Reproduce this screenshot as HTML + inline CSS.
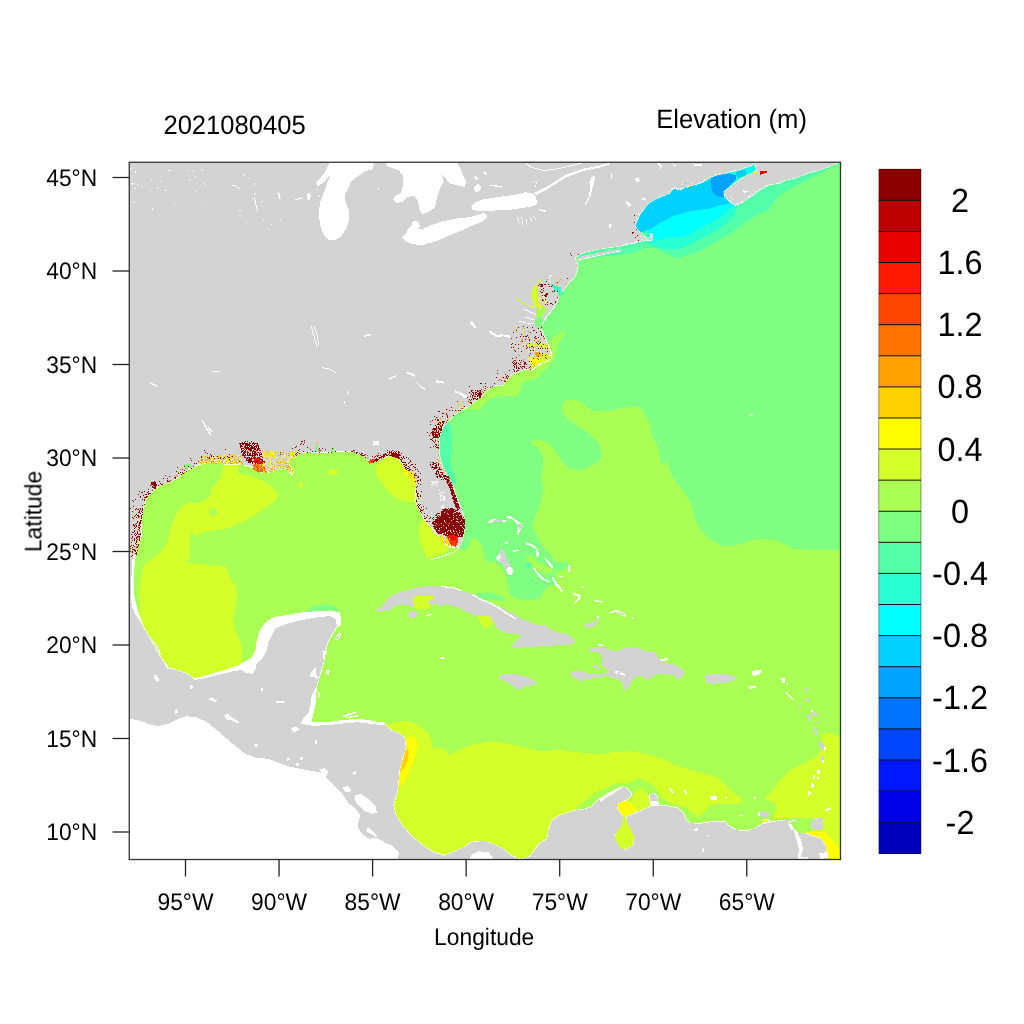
<!DOCTYPE html>
<html><head><meta charset="utf-8"><title>Elevation map</title>
<style>
html,body{margin:0;padding:0;background:#fff;}
svg{display:block;}
text{font-family:"Liberation Sans",Arial,Helvetica,sans-serif;fill:#000;text-rendering:geometricPrecision;}
#txt,#txt2{opacity:0.999;filter:grayscale(1);}
.ax{font-size:22.8px;}
.tt{font-size:25.6px;}
.cb{font-size:32.4px;}
</style></head><body>
<svg width="1024" height="1024" viewBox="0 0 1024 1024">
<rect x="0" y="0" width="1024" height="1024" fill="#ffffff"/>
<defs><clipPath id="clip"><rect x="129.25" y="162.25" width="711.25" height="697.25"/></clipPath></defs>

<g clip-path="url(#clip)" shape-rendering="crispEdges">
<rect x="129.25" y="162.25" width="711.25" height="697.25" fill="#d3d3d3"/>
<path fill="#ffffff" d="M128.0,718.8 138.0,720.0 148.0,723.8 158.0,726.2 168.0,723.8 178.0,718.8 185.5,716.2 195.5,717.0 205.5,721.2 215.5,728.8 225.5,737.5 235.5,746.2 245.5,753.8 255.5,757.5 268.0,758.8 278.0,762.5 288.0,766.2 300.5,768.8 313.0,771.2 320.5,772.5 328.0,780.0 335.5,787.5 343.0,795.0 348.0,802.5 355.5,808.8 360.5,815.0 356.8,820.0 358.0,827.5 361.8,833.8 369.2,838.8 375.5,837.5 380.5,840.0 384.0,841.2 384.0,842.5 391.5,845.0 399.0,852.5 397.8,857.5 399.0,861.2 109.0,861.2Z"/>
<path fill="#ffffff" d="M469.0,861.2 471.5,855.0 479.0,851.2 489.0,852.5 495.2,861.2Z"/>
<path fill="#ffffff" d="M188.0,671.2 194.2,680.0 205.5,678.0 218.0,675.0 233.0,671.2 241.8,670.0 245.5,673.0 253.0,673.8 255.5,668.8 255.5,665.0 263.0,657.5 266.8,650.0 268.8,641.0 275.0,628.5 288.0,623.5 303.0,619.8 318.0,617.2 330.5,616.0 336.8,619.8 338.0,626.0 341.0,625.0 343.0,610.0 303.0,605.0 253.0,610.0 228.0,657.5Z"/>
<path fill="#ffffff" d="M311.8,695.0 316.8,685.0 318.0,695.0 316.0,707.5 314.2,718.8 313.0,722.0 328.0,721.0 343.0,719.0 358.0,717.8 368.0,719.0 384.0,721.2 384.0,725.2 368.0,723.5 358.0,722.2 343.0,723.5 328.0,725.2 313.0,725.8 308.0,725.0 300.5,723.8 303.0,718.8 308.0,713.8 310.5,705.0Z"/>
<path fill="#ffffff" d="M290.5,728.8 294.2,727.0 299.2,728.0 298.0,731.2 293.0,732.0Z"/>
<path fill="#ffffff" d="M355.5,795.0 360.5,793.8 368.0,798.8 375.5,806.2 376.8,812.5 371.8,813.8 363.0,810.0 356.8,803.8 354.2,798.8Z"/>
<path fill="#ffffff" d="M343.0,787.0 348.0,786.2 351.8,790.0 349.2,792.5 344.2,791.2Z"/>
<path fill="#ffffff" d="M319.2,769.5 324.2,768.0 328.0,771.2 326.8,776.2 323.0,777.5 321.8,773.0Z"/>
<path fill="#ffffff" d="M132.8,555.0 136.2,555.0 135.5,574.2 134.2,594.7 135.5,604.3 138.9,611.1 143.0,616.6 143.7,622.0 138.9,620.0 134.8,613.8 131.8,605.6 130.7,594.7 131.6,574.2Z"/>
<path fill="#ffffff" d="M331.2,160.0 325.0,172.5 316.2,182.5 317.5,186.2 325.0,181.2 331.2,173.8 327.5,182.5 323.8,192.5 320.0,202.5 318.8,212.5 320.0,225.0 323.8,235.0 328.8,240.0 335.0,240.5 341.2,236.2 346.2,228.8 349.5,218.8 348.8,210.0 345.8,202.5 344.5,195.0 348.8,187.5 351.2,181.2 360.0,175.0 365.0,171.2 372.5,169.5 373.8,165.0 371.2,160.0Z"/>
<path fill="#ffffff" d="M383.8,160.0 387.5,166.2 398.8,170.0 403.0,176.2 403.0,185.0 401.2,192.5 395.0,196.2 393.0,200.0 396.2,203.0 402.5,202.0 407.5,197.0 413.8,195.5 417.5,200.0 419.5,208.8 422.0,214.5 430.0,211.2 435.0,207.5 437.0,197.5 440.5,187.5 443.8,181.2 441.2,175.0 445.0,177.5 450.0,183.8 456.2,185.0 465.0,187.0 466.2,181.2 462.5,173.8 460.0,167.5 456.2,160.0Z"/>
<path fill="#ffffff" d="M402.5,237.5 406.2,233.8 408.0,228.8 411.2,226.2 412.5,222.5 415.5,220.8 418.8,222.5 420.0,226.2 417.5,228.8 422.5,229.5 430.0,225.5 440.0,222.0 455.0,218.8 470.0,217.0 483.8,213.0 487.5,215.5 486.2,218.8 480.0,222.5 472.5,225.5 460.0,231.2 447.5,236.2 436.2,241.2 425.0,244.5 420.0,245.5 412.5,243.8 406.2,242.0Z"/>
<path fill="#ffffff" d="M471.2,206.2 475.0,202.5 482.5,199.5 497.5,197.0 510.0,195.5 520.0,193.8 525.0,192.0 533.8,193.8 536.2,197.5 537.0,203.8 532.5,206.2 522.5,208.0 512.5,209.5 500.0,210.0 487.5,211.2 478.8,211.2 472.5,209.5Z"/>
<path fill="#ffffff" d="M307.0,193.8 309.5,192.5 311.0,196.2 309.5,200.0 307.0,198.8Z"/>
<path fill="#ffffff" d="M473.8,187.5 478.0,183.8 481.2,187.0 479.5,191.2 475.0,192.0Z"/>
<path fill="#ffffff" d="M533.8,193.2 547.5,186.5 565.0,175.0 582.5,168.8 600.0,165.5 610.0,162.5 610.0,164.0 600.0,167.5 582.5,171.2 565.0,178.0 547.5,189.0 536.2,195.0Z"/>
<clipPath id="oc"><path d="M168.0,668.5 160.5,656.0 150.5,638.5 143.0,623.5 138.0,611.0 134.2,596.0 133.5,578.5 135.0,561.0 138.0,548.5 141.8,536.0 141.8,523.5 143.0,511.0 146.8,498.5 153.0,491.0 163.0,484.8 175.5,479.8 185.5,472.2 195.5,466.0 205.5,463.5 215.5,463.0 225.5,464.8 238.0,464.8 248.0,466.0 255.5,469.8 263.0,473.5 271.8,472.2 278.0,469.8 288.0,470.5 291.8,476.0 294.2,472.2 290.5,466.0 288.0,462.2 293.0,458.5 300.5,453.5 308.0,452.2 318.0,453.0 328.0,453.0 340.5,451.5 353.0,452.2 363.0,456.0 369.2,462.2 375.5,462.4 380.9,459.7 386.4,456.9 391.9,456.2 397.4,458.3 402.1,463.8 405.6,469.2 411.0,474.7 414.4,478.8 415.8,485.6 415.1,492.5 414.4,499.3 416.5,504.8 419.9,511.6 423.3,518.5 427.4,523.9 431.5,528.0 434.3,533.5 438.4,536.2 442.5,540.3 446.6,545.8 452.1,547.9 457.5,548.5 460.3,545.8 463.0,540.3 464.4,533.5 465.0,523.9 464.4,515.7 461.6,507.5 458.2,499.3 455.5,492.5 454.1,485.6 450.0,478.8 445.2,470.6 441.8,462.4 439.7,454.2 439.5,444.6 440.4,435.0 443.8,426.8 448.6,421.4 450.7,420.0 453.2,416.2 460.1,411.4 466.9,408.0 475.1,401.9 482.0,397.1 484.7,393.0 491.5,387.5 498.4,385.4 503.8,386.1 505.2,382.0 510.7,376.6 517.5,372.5 525.7,369.7 531.9,370.4 535.3,367.0 542.1,362.9 547.6,360.8 551.0,358.8 551.4,353.3 548.9,346.5 546.2,341.0 544.2,335.5 543.6,335.9 541.6,329.1 542.6,325.2 544.1,321.3 547.0,316.4 550.9,311.5 554.8,306.6 557.7,302.7 558.7,297.9 559.7,295.9 563.6,291.0 566.5,287.1 569.5,283.2 573.4,279.3 576.3,275.4 577.8,269.5 578.7,264.6 577.3,260.7 575.5,258.4 581.1,254.2 596.6,250.0 616.2,247.2 620.0,246.7 629.4,244.4 640.3,242.0 645.0,240.5 651.2,241.2 653.6,238.9 653.6,235.0 651.2,232.7 648.9,233.4 650.5,237.3 646.6,237.3 641.9,233.4 637.2,228.8 635.6,224.8 638.0,220.2 640.3,214.7 645.0,208.4 649.7,203.0 655.9,199.8 662.2,196.7 670.0,193.6 673.9,188.9 679.4,190.5 685.6,188.1 693.4,185.8 701.2,183.4 707.5,180.3 710.6,178.0 716.9,175.6 726.2,173.8 735.6,171.2 743.4,169.1 749.7,167.0 754.4,163.9 755.9,169.4 752.8,172.5 748.1,174.8 740.3,178.8 732.5,184.2 726.2,188.9 723.1,191.2 724.4,197.5 729.4,202.5 735.6,206.1 743.4,202.2 752.8,195.9 760.6,190.0 768.4,185.8 776.2,184.2 780.0,183.4 785.0,181.1 796.2,178.3 807.5,174.1 818.8,170.7 830.0,167.0 841.2,162.2 842.0,160.0 842.0,862.0 840.0,859.5 827.5,858.8 826.2,845.0 820.0,837.5 810.0,834.5 805.0,832.0 812.5,830.5 823.0,830.0 822.5,817.5 812.5,818.8 813.8,832.5 800.0,832.5 797.5,832.5 788.8,822.5 797.5,820.0 785.0,819.5 772.5,821.2 761.2,823.8 755.0,827.5 747.5,830.5 736.2,829.5 728.8,825.0 723.8,820.8 712.5,821.2 700.0,823.0 690.0,822.5 686.2,818.8 683.8,812.5 677.5,807.5 667.5,805.5 658.8,805.0 658.0,796.2 653.8,792.5 648.8,795.0 650.0,806.2 643.8,808.8 635.0,812.5 626.2,816.2 625.0,822.5 628.8,828.8 633.8,837.5 632.5,845.0 625.0,849.5 620.0,845.0 615.0,835.0 621.2,830.0 625.0,823.8 623.8,816.2 617.5,808.8 618.8,803.8 627.5,800.0 632.5,795.0 630.0,790.0 623.8,786.2 619.0,787.5 609.0,792.5 599.0,798.8 591.5,806.2 584.0,808.8 574.0,810.0 566.5,812.5 559.0,815.0 551.5,820.0 547.8,830.0 546.5,838.8 539.0,842.5 534.0,850.0 529.0,856.2 520.2,858.8 511.5,855.0 504.0,848.8 494.0,843.8 484.0,840.5 471.5,841.2 466.5,845.0 456.5,850.0 444.0,855.0 432.8,851.2 421.5,843.8 411.5,835.0 402.8,825.0 396.5,815.0 394.0,805.0 397.8,792.5 399.0,782.5 400.2,770.0 402.8,760.0 406.5,747.5 405.2,737.5 399.0,732.5 391.5,730.0 384.0,723.0 384.0,722.5 378.0,722.0 368.0,720.0 358.0,718.8 343.0,720.0 328.0,722.0 311.8,722.5 313.0,715.0 315.5,705.0 316.0,695.0 317.5,685.0 320.5,675.0 324.2,662.5 325.5,652.5 328.0,642.5 335.5,630.0 340.5,620.0 340.5,621.0 339.2,613.5 333.0,610.5 318.0,611.0 303.0,612.2 288.0,614.8 273.0,617.2 264.2,623.5 258.0,633.5 254.2,646.0 248.0,656.0 238.0,666.0 264.2,625.0 259.2,632.5 256.8,640.0 255.5,650.0 251.8,657.5 245.5,661.2 238.0,665.0 228.0,668.8 215.5,672.5 203.0,676.2 194.2,678.0 186.8,673.0 178.0,670.0 169.2,667.5 161.8,657.5 159.2,647.5 153.0,640.0 145.5,630.0 140.5,620.0Z"/></clipPath>
<path fill="none" stroke="#ffffff" stroke-width="1.5" stroke-linejoin="round" d="M168.0,668.5 160.5,656.0 150.5,638.5 143.0,623.5 138.0,611.0 134.2,596.0 133.5,578.5 135.0,561.0 138.0,548.5 141.8,536.0 141.8,523.5 143.0,511.0 146.8,498.5 153.0,491.0 163.0,484.8 175.5,479.8 185.5,472.2 195.5,466.0 205.5,463.5 215.5,463.0 225.5,464.8 238.0,464.8 248.0,466.0 255.5,469.8 263.0,473.5 271.8,472.2 278.0,469.8 288.0,470.5 291.8,476.0 294.2,472.2 290.5,466.0 288.0,462.2 293.0,458.5 300.5,453.5 308.0,452.2 318.0,453.0 328.0,453.0 340.5,451.5 353.0,452.2 363.0,456.0 369.2,462.2 375.5,462.4 380.9,459.7 386.4,456.9 391.9,456.2 397.4,458.3 402.1,463.8 405.6,469.2 411.0,474.7 414.4,478.8 415.8,485.6 415.1,492.5 414.4,499.3 416.5,504.8 419.9,511.6 423.3,518.5 427.4,523.9 431.5,528.0 434.3,533.5 438.4,536.2 442.5,540.3 446.6,545.8 452.1,547.9 457.5,548.5 460.3,545.8 463.0,540.3 464.4,533.5 465.0,523.9 464.4,515.7 461.6,507.5 458.2,499.3 455.5,492.5 454.1,485.6 450.0,478.8 445.2,470.6 441.8,462.4 439.7,454.2 439.5,444.6 440.4,435.0 443.8,426.8 448.6,421.4 450.7,420.0 453.2,416.2 460.1,411.4 466.9,408.0 475.1,401.9 482.0,397.1 484.7,393.0 491.5,387.5 498.4,385.4 503.8,386.1 505.2,382.0 510.7,376.6 517.5,372.5 525.7,369.7 531.9,370.4 535.3,367.0 542.1,362.9 547.6,360.8 551.0,358.8 551.4,353.3 548.9,346.5 546.2,341.0 544.2,335.5 543.6,335.9 541.6,329.1 542.6,325.2 544.1,321.3 547.0,316.4 550.9,311.5 554.8,306.6 557.7,302.7 558.7,297.9 559.7,295.9 563.6,291.0 566.5,287.1 569.5,283.2 573.4,279.3 576.3,275.4 577.8,269.5 578.7,264.6 577.3,260.7 575.5,258.4 581.1,254.2 596.6,250.0 616.2,247.2 620.0,246.7 629.4,244.4 640.3,242.0 645.0,240.5 651.2,241.2 653.6,238.9 653.6,235.0 651.2,232.7 648.9,233.4 650.5,237.3 646.6,237.3 641.9,233.4 637.2,228.8 635.6,224.8 638.0,220.2 640.3,214.7 645.0,208.4 649.7,203.0 655.9,199.8 662.2,196.7 670.0,193.6 673.9,188.9 679.4,190.5 685.6,188.1 693.4,185.8 701.2,183.4 707.5,180.3 710.6,178.0 716.9,175.6 726.2,173.8 735.6,171.2 743.4,169.1 749.7,167.0 754.4,163.9 755.9,169.4 752.8,172.5 748.1,174.8 740.3,178.8 732.5,184.2 726.2,188.9 723.1,191.2 724.4,197.5 729.4,202.5 735.6,206.1 743.4,202.2 752.8,195.9 760.6,190.0 768.4,185.8 776.2,184.2 780.0,183.4 785.0,181.1 796.2,178.3 807.5,174.1 818.8,170.7 830.0,167.0 841.2,162.2 842.0,160.0 842.0,862.0 840.0,859.5 827.5,858.8 826.2,845.0 820.0,837.5 810.0,834.5 805.0,832.0 812.5,830.5 823.0,830.0 822.5,817.5 812.5,818.8 813.8,832.5 800.0,832.5 797.5,832.5 788.8,822.5 797.5,820.0 785.0,819.5 772.5,821.2 761.2,823.8 755.0,827.5 747.5,830.5 736.2,829.5 728.8,825.0 723.8,820.8 712.5,821.2 700.0,823.0 690.0,822.5 686.2,818.8 683.8,812.5 677.5,807.5 667.5,805.5 658.8,805.0 658.0,796.2 653.8,792.5 648.8,795.0 650.0,806.2 643.8,808.8 635.0,812.5 626.2,816.2 625.0,822.5 628.8,828.8 633.8,837.5 632.5,845.0 625.0,849.5 620.0,845.0 615.0,835.0 621.2,830.0 625.0,823.8 623.8,816.2 617.5,808.8 618.8,803.8 627.5,800.0 632.5,795.0 630.0,790.0 623.8,786.2 619.0,787.5 609.0,792.5 599.0,798.8 591.5,806.2 584.0,808.8 574.0,810.0 566.5,812.5 559.0,815.0 551.5,820.0 547.8,830.0 546.5,838.8 539.0,842.5 534.0,850.0 529.0,856.2 520.2,858.8 511.5,855.0 504.0,848.8 494.0,843.8 484.0,840.5 471.5,841.2 466.5,845.0 456.5,850.0 444.0,855.0 432.8,851.2 421.5,843.8 411.5,835.0 402.8,825.0 396.5,815.0 394.0,805.0 397.8,792.5 399.0,782.5 400.2,770.0 402.8,760.0 406.5,747.5 405.2,737.5 399.0,732.5 391.5,730.0 384.0,723.0 384.0,722.5 378.0,722.0 368.0,720.0 358.0,718.8 343.0,720.0 328.0,722.0 311.8,722.5 313.0,715.0 315.5,705.0 316.0,695.0 317.5,685.0 320.5,675.0 324.2,662.5 325.5,652.5 328.0,642.5 335.5,630.0 340.5,620.0 340.5,621.0 339.2,613.5 333.0,610.5 318.0,611.0 303.0,612.2 288.0,614.8 273.0,617.2 264.2,623.5 258.0,633.5 254.2,646.0 248.0,656.0 238.0,666.0 264.2,625.0 259.2,632.5 256.8,640.0 255.5,650.0 251.8,657.5 245.5,661.2 238.0,665.0 228.0,668.8 215.5,672.5 203.0,676.2 194.2,678.0 186.8,673.0 178.0,670.0 169.2,667.5 161.8,657.5 159.2,647.5 153.0,640.0 145.5,630.0 140.5,620.0Z"/>
<path fill="#aaff55" d="M168.0,668.5 160.5,656.0 150.5,638.5 143.0,623.5 138.0,611.0 134.2,596.0 133.5,578.5 135.0,561.0 138.0,548.5 141.8,536.0 141.8,523.5 143.0,511.0 146.8,498.5 153.0,491.0 163.0,484.8 175.5,479.8 185.5,472.2 195.5,466.0 205.5,463.5 215.5,463.0 225.5,464.8 238.0,464.8 248.0,466.0 255.5,469.8 263.0,473.5 271.8,472.2 278.0,469.8 288.0,470.5 291.8,476.0 294.2,472.2 290.5,466.0 288.0,462.2 293.0,458.5 300.5,453.5 308.0,452.2 318.0,453.0 328.0,453.0 340.5,451.5 353.0,452.2 363.0,456.0 369.2,462.2 375.5,462.4 380.9,459.7 386.4,456.9 391.9,456.2 397.4,458.3 402.1,463.8 405.6,469.2 411.0,474.7 414.4,478.8 415.8,485.6 415.1,492.5 414.4,499.3 416.5,504.8 419.9,511.6 423.3,518.5 427.4,523.9 431.5,528.0 434.3,533.5 438.4,536.2 442.5,540.3 446.6,545.8 452.1,547.9 457.5,548.5 460.3,545.8 463.0,540.3 464.4,533.5 465.0,523.9 464.4,515.7 461.6,507.5 458.2,499.3 455.5,492.5 454.1,485.6 450.0,478.8 445.2,470.6 441.8,462.4 439.7,454.2 439.5,444.6 440.4,435.0 443.8,426.8 448.6,421.4 450.7,420.0 453.2,416.2 460.1,411.4 466.9,408.0 475.1,401.9 482.0,397.1 484.7,393.0 491.5,387.5 498.4,385.4 503.8,386.1 505.2,382.0 510.7,376.6 517.5,372.5 525.7,369.7 531.9,370.4 535.3,367.0 542.1,362.9 547.6,360.8 551.0,358.8 551.4,353.3 548.9,346.5 546.2,341.0 544.2,335.5 543.6,335.9 541.6,329.1 542.6,325.2 544.1,321.3 547.0,316.4 550.9,311.5 554.8,306.6 557.7,302.7 558.7,297.9 559.7,295.9 563.6,291.0 566.5,287.1 569.5,283.2 573.4,279.3 576.3,275.4 577.8,269.5 578.7,264.6 577.3,260.7 575.5,258.4 581.1,254.2 596.6,250.0 616.2,247.2 620.0,246.7 629.4,244.4 640.3,242.0 645.0,240.5 651.2,241.2 653.6,238.9 653.6,235.0 651.2,232.7 648.9,233.4 650.5,237.3 646.6,237.3 641.9,233.4 637.2,228.8 635.6,224.8 638.0,220.2 640.3,214.7 645.0,208.4 649.7,203.0 655.9,199.8 662.2,196.7 670.0,193.6 673.9,188.9 679.4,190.5 685.6,188.1 693.4,185.8 701.2,183.4 707.5,180.3 710.6,178.0 716.9,175.6 726.2,173.8 735.6,171.2 743.4,169.1 749.7,167.0 754.4,163.9 755.9,169.4 752.8,172.5 748.1,174.8 740.3,178.8 732.5,184.2 726.2,188.9 723.1,191.2 724.4,197.5 729.4,202.5 735.6,206.1 743.4,202.2 752.8,195.9 760.6,190.0 768.4,185.8 776.2,184.2 780.0,183.4 785.0,181.1 796.2,178.3 807.5,174.1 818.8,170.7 830.0,167.0 841.2,162.2 842.0,160.0 842.0,862.0 840.0,859.5 827.5,858.8 826.2,845.0 820.0,837.5 810.0,834.5 805.0,832.0 812.5,830.5 823.0,830.0 822.5,817.5 812.5,818.8 813.8,832.5 800.0,832.5 797.5,832.5 788.8,822.5 797.5,820.0 785.0,819.5 772.5,821.2 761.2,823.8 755.0,827.5 747.5,830.5 736.2,829.5 728.8,825.0 723.8,820.8 712.5,821.2 700.0,823.0 690.0,822.5 686.2,818.8 683.8,812.5 677.5,807.5 667.5,805.5 658.8,805.0 658.0,796.2 653.8,792.5 648.8,795.0 650.0,806.2 643.8,808.8 635.0,812.5 626.2,816.2 625.0,822.5 628.8,828.8 633.8,837.5 632.5,845.0 625.0,849.5 620.0,845.0 615.0,835.0 621.2,830.0 625.0,823.8 623.8,816.2 617.5,808.8 618.8,803.8 627.5,800.0 632.5,795.0 630.0,790.0 623.8,786.2 619.0,787.5 609.0,792.5 599.0,798.8 591.5,806.2 584.0,808.8 574.0,810.0 566.5,812.5 559.0,815.0 551.5,820.0 547.8,830.0 546.5,838.8 539.0,842.5 534.0,850.0 529.0,856.2 520.2,858.8 511.5,855.0 504.0,848.8 494.0,843.8 484.0,840.5 471.5,841.2 466.5,845.0 456.5,850.0 444.0,855.0 432.8,851.2 421.5,843.8 411.5,835.0 402.8,825.0 396.5,815.0 394.0,805.0 397.8,792.5 399.0,782.5 400.2,770.0 402.8,760.0 406.5,747.5 405.2,737.5 399.0,732.5 391.5,730.0 384.0,723.0 384.0,722.5 378.0,722.0 368.0,720.0 358.0,718.8 343.0,720.0 328.0,722.0 311.8,722.5 313.0,715.0 315.5,705.0 316.0,695.0 317.5,685.0 320.5,675.0 324.2,662.5 325.5,652.5 328.0,642.5 335.5,630.0 340.5,620.0 340.5,621.0 339.2,613.5 333.0,610.5 318.0,611.0 303.0,612.2 288.0,614.8 273.0,617.2 264.2,623.5 258.0,633.5 254.2,646.0 248.0,656.0 238.0,666.0 264.2,625.0 259.2,632.5 256.8,640.0 255.5,650.0 251.8,657.5 245.5,661.2 238.0,665.0 228.0,668.8 215.5,672.5 203.0,676.2 194.2,678.0 186.8,673.0 178.0,670.0 169.2,667.5 161.8,657.5 159.2,647.5 153.0,640.0 145.5,630.0 140.5,620.0Z"/>
<g clip-path="url(#oc)">
<path fill="#80ff80" d="M457.5,547.9 460.3,548.5 464.4,551.3 468.5,547.2 471.2,540.3 473.9,537.6 478.0,540.3 481.5,545.8 483.5,551.3 484.6,556.8 486.6,561.8 491.6,561.4 496.6,563.1 501.5,568.1 505.7,574.7 507.4,581.3 508.2,588.0 509.8,594.6 516.5,598.8 526.4,600.4 536.4,600.4 541.4,596.3 544.7,589.6 548.0,586.3 553.0,585.5 558.0,584.7 556.3,579.7 554.7,573.9 558.0,571.4 564.6,569.7 569.6,566.4 567.9,562.3 563.0,561.4 556.3,562.3 553.0,558.1 549.7,553.1 544.7,548.1 539.7,541.5 535.6,533.2 532.3,526.6 534.7,518.3 538.1,510.0 541.4,500.0 542.8,491.0 542.0,473.5 543.5,458.5 539.0,448.5 531.5,443.5 534.0,439.8 544.0,441.0 551.5,446.0 556.5,453.5 562.8,462.2 569.0,468.5 579.0,470.5 589.0,467.2 599.0,462.2 602.0,453.5 599.0,443.5 589.0,433.5 574.0,423.5 564.0,416.0 562.0,405.0 566.5,400.0 574.0,399.5 581.5,402.5 586.5,407.5 594.0,411.2 606.5,411.2 619.0,408.8 631.5,406.2 640.0,407.5 645.0,416.0 651.2,426.0 651.2,434.8 657.5,446.0 661.2,464.8 666.2,461.0 672.5,477.2 685.0,493.5 691.2,503.5 695.0,518.5 700.0,529.8 710.0,539.8 722.5,545.5 735.0,545.5 750.0,541.0 763.8,539.0 777.5,541.0 792.5,548.5 817.5,550.5 845.0,549.8 845.0,150.0 430.0,150.0 440.0,400.0 450.0,540.0Z"/>
<path fill="#aaff55" d="M526.4,554.8 531.4,556.4 536.4,561.4 543.0,564.7 548.0,566.4 553.0,568.1 551.3,573.0 548.0,574.7 543.0,573.0 536.4,569.7 531.4,565.6 527.3,560.6Z"/>
<path fill="#55ffaa" d="M526.1,562.8 529.8,562.3 532.3,566.4 528.9,568.1 526.4,565.6Z"/>
<path fill="#aaff55" d="M464.2,410.1 469.6,409.4 480.6,409.4 484.7,403.9 490.2,398.4 498.4,396.4 506.6,396.4 517.5,395.7 520.9,388.9 523.0,382.0 529.8,380.0 538.0,377.9 540.7,372.5 547.6,368.4 553.0,360.2 555.8,354.7 557.8,345.1 561.2,338.3 565.4,332.8 566.0,330.8 559.9,333.5 553.7,336.9 550.3,342.4 547.6,345.1 539.4,341.0 484.7,368.4 457.3,409.4Z"/>
<path fill="#55ffaa" d="M438.4,435.0 443.8,426.8 448.6,422.1 452.1,428.2 452.7,439.1 451.8,450.1 450.7,461.0 452.1,469.2 454.8,477.4 456.8,484.3 452.1,484.3 438.4,461.0Z"/>
<path fill="#55ffaa" d="M576.9,259.0 596.6,257.3 619.9,254.8 633.1,252.8 644.4,248.3 655.6,247.8 664.1,252.8 678.1,258.4 695.0,252.8 711.9,244.4 728.8,234.5 742.8,224.7 756.9,214.8 768.1,210.6 773.8,202.2 782.2,193.8 796.2,185.3 813.1,176.9 827.2,169.8 841.2,163.4 841.2,154.4 574.1,154.4Z"/>
<path fill="#2affd4" d="M648.1,242.8 652.8,245.9 662.2,249.1 673.1,249.1 682.5,248.3 693.4,242.8 704.4,236.6 713.8,231.9 723.1,225.6 732.5,217.8 735.6,211.6 736.9,206.9 738.8,156.9 635.6,156.9Z"/>
<path fill="#00ffff" d="M649.7,239.7 653.6,241.2 660.6,238.9 671.6,237.3 682.5,236.6 691.9,233.4 701.2,227.2 713.8,220.9 723.1,214.7 729.4,208.4 733.3,205.3 733.3,156.9 635.6,156.9Z"/>
<path fill="#00d1ff" d="M634.1,235.0 651.2,228.8 660.6,222.5 673.1,216.2 685.6,212.3 698.1,210.0 710.6,208.4 720.0,205.3 728.6,203.8 729.4,156.9 632.5,156.9Z"/>
<path fill="#00a2ff" d="M711.4,178.0 720.0,174.8 729.4,173.3 736.4,175.6 735.6,179.5 729.4,185.8 725.0,191.2 724.4,197.2 716.9,196.2 712.2,192.0 710.6,185.0Z"/>
<path fill="#00d1ff" d="M736.4,171.7 743.4,169.4 749.7,170.9 745.0,175.6 738.8,178.0 735.9,175.6Z"/>
<path fill="#00ffff" d="M743.4,168.6 752.8,164.7 755.9,169.4 751.2,173.3 747.3,173.3Z"/>
<path fill="#80ff80" d="M568.4,278.1 579.7,266.9 581.1,258.4 575.5,257.0 565.6,266.9 557.2,283.8Z"/>
<path fill="#d4ff2a" d="M143.0,566.0 150.5,559.8 160.5,552.2 168.0,541.0 170.5,528.5 175.5,516.0 181.8,506.0 189.2,502.2 200.5,503.5 210.5,496.0 211.8,488.5 220.5,478.5 224.2,463.5 238.0,461.0 238.0,473.5 250.5,476.0 263.0,481.0 273.0,487.2 278.8,496.0 273.0,502.2 263.0,509.8 253.0,516.0 245.5,521.0 238.0,523.5 228.0,528.5 215.5,529.8 203.0,532.2 196.8,536.0 190.5,532.2 190.0,546.0 190.5,556.0 185.5,562.2 198.0,564.0 225.5,566.0 229.2,576.0 235.5,586.0 237.5,596.0 235.5,606.0 233.0,616.0 234.2,628.5 239.2,638.5 241.8,648.5 241.8,661.0 235.5,673.5 228.0,681.0 215.5,691.0 153.0,691.0 138.0,628.5 140.5,616.0 139.2,591.0Z"/>
<path fill="#aaff55" d="M208.5,509.8 213.0,508.0 217.5,510.5 216.8,514.8 212.5,516.0 209.0,514.0Z"/>
<path fill="#d4ff2a" d="M328.0,471.5 333.0,469.0 338.5,470.5 337.5,474.0 331.8,475.5 328.5,474.0Z"/>
<path fill="#d4ff2a" d="M298.5,482.2 301.8,481.5 303.0,486.0 300.5,488.5 298.5,486.0Z"/>
<path fill="#d4ff2a" d="M375.5,465.1 380.9,461.0 387.8,455.8 393.2,454.9 399.4,456.9 405.6,463.8 411.0,470.6 416.5,477.4 417.9,485.6 416.5,493.8 413.8,503.4 409.7,502.1 402.8,500.7 396.0,497.9 389.1,492.5 383.7,485.6 378.2,478.8 375.5,472.0Z"/>
<path fill="#d4ff2a" d="M422.6,518.5 428.8,523.2 432.9,528.0 436.3,532.8 439.7,535.6 444.5,540.3 447.9,545.1 449.3,549.9 443.8,553.3 438.4,554.7 432.9,556.8 427.4,558.1 424.0,551.3 420.6,543.1 419.0,534.9 419.5,526.7Z"/>
<path fill="#d4ff2a" d="M411.9,595.4 434.5,595.4 435.5,598.4 427.6,601.8 431.2,605.4 428.4,609.1 416.2,609.1 413.0,604.4Z"/>
<path fill="#d4ff2a" d="M476.3,614.0 490.3,614.0 494.2,621.6 486.0,628.9 481.3,623.7Z"/>
<path fill="#80ff80" d="M476.6,593.0 489.9,592.3 503.2,596.3 505.7,601.6 494.9,599.6 480.0,599.6 473.3,597.1Z"/>
<path fill="#80ff80" d="M306.0,611.0 313.0,606.5 325.5,604.0 335.5,606.5 340.0,612.2 328.0,613.5Z"/>
<path fill="#d4ff2a" d="M379.0,725.0 391.5,723.8 399.0,721.2 409.0,721.2 419.0,726.2 427.8,732.5 431.5,740.0 432.8,747.5 444.0,748.8 449.0,755.0 459.0,750.0 471.5,745.0 484.0,742.5 494.0,741.8 509.0,743.8 524.0,747.5 539.0,751.2 559.0,750.0 579.0,752.5 596.5,753.8 600.0,753.8 615.0,752.0 632.5,751.2 650.0,755.0 665.0,760.0 675.0,765.0 690.0,770.0 705.0,773.8 717.5,777.5 725.0,785.0 732.5,792.5 741.2,797.5 742.5,802.5 735.0,803.8 722.5,803.8 710.0,805.0 705.0,810.0 700.0,815.0 696.2,817.5 692.5,812.5 685.0,807.5 672.5,803.8 662.5,798.8 658.8,792.5 655.0,787.5 650.0,782.5 642.5,780.0 637.5,777.5 632.5,781.2 625.0,783.8 615.0,782.5 607.5,787.5 600.0,790.0 595.0,792.5 570.0,813.8 585.0,870.0 375.0,870.0Z"/>
<path fill="#d4ff2a" d="M765.0,798.8 772.5,790.0 780.0,780.0 790.0,770.0 800.0,765.0 810.0,760.0 817.5,755.0 821.2,750.0 822.5,733.8 830.0,732.5 842.5,738.8 842.5,870.0 800.0,870.0 815.0,832.5 817.5,817.5 785.0,818.0 772.5,820.0 775.0,810.0 776.2,803.8 770.0,801.2Z"/>
<path fill="#d4ff2a" d="M632.5,795.0 640.0,786.2 648.8,795.0 651.2,807.5 635.0,813.8 626.2,817.5 615.0,835.0 620.0,845.0 625.0,851.2 633.8,846.2 635.0,837.5 629.5,828.8 625.5,822.5 627.5,815.0Z"/>
<path fill="#aaff55" d="M788.8,821.2 812.5,820.8 813.8,832.5 797.5,833.0Z"/>
<path fill="#ffff00" d="M615.0,803.8 627.5,799.5 636.8,810.0 626.2,816.8 623.8,816.8 617.0,809.2Z"/>
<path fill="#ffff00" d="M805.0,832.0 815.0,831.2 825.0,832.5 832.5,840.0 838.8,847.5 841.2,860.0 826.2,860.0 826.2,845.0 820.0,837.5 810.0,834.5Z"/>
<path fill="#ffff00" d="M407.8,736.2 415.2,737.5 417.8,745.0 415.2,757.5 410.2,770.0 405.2,780.0 401.5,786.2 397.8,785.0 399.0,770.0 402.8,760.0 405.2,747.5Z"/>
<path fill="#ffd100" d="M404.0,747.5 409.0,750.0 407.8,760.0 402.8,770.0 399.0,772.5 400.2,760.0Z"/>
</g>
<path fill="#d3d3d3" d="M375.4,609.7 380.7,607.6 385.0,602.2 389.3,596.9 397.9,592.6 408.7,589.8 419.4,586.8 432.3,586.1 443.0,586.8 453.8,588.3 462.4,591.5 471.0,593.6 477.4,599.0 486.0,602.2 496.8,605.4 505.4,609.7 513.9,614.0 520.4,618.3 529.0,621.6 537.6,624.8 546.2,625.4 549.4,629.1 556.9,632.3 564.4,633.4 570.9,636.6 575.8,640.9 573.0,644.1 563.4,645.2 552.6,645.6 541.9,646.3 529.0,646.9 518.2,647.8 510.7,648.4 512.9,644.1 518.2,639.8 520.4,634.5 511.8,633.4 503.2,632.3 496.8,628.0 493.5,622.6 489.2,615.8 477.4,616.2 471.0,614.0 464.5,610.8 458.1,607.6 450.6,605.4 444.1,604.4 442.0,606.5 436.6,604.4 430.6,604.8 427.6,601.8 434.5,598.4 433.4,596.2 421.6,595.8 413.0,596.9 413.6,604.4 414.0,608.2 408.7,605.4 400.1,604.4 393.6,606.5 390.4,609.7 382.9,610.8 377.5,611.9Z"/>
<path fill="#d3d3d3" d="M407.6,614.0 411.9,610.4 416.2,610.8 417.7,614.0 415.1,617.7 409.7,617.7Z"/>
<path fill="#ffffff" d="M473.1,594.1 481.7,599.0 490.3,602.2 498.9,607.0 507.5,613.0 516.1,618.3 515.2,619.4 506.6,614.3 498.0,608.2 489.5,603.5 480.9,600.3 472.3,595.4Z"/>
<path fill="#ffffff" d="M440.9,586.1 451.6,586.8 462.4,590.4 462.0,591.5 451.6,588.0 440.9,587.2Z"/>
<path fill="#ffffff" d="M439.8,657.0 445.2,657.7 444.8,659.2 440.0,658.7Z"/>
<path fill="#ffffff" d="M425.9,615.1 432.3,614.0 432.7,615.1 426.3,616.2Z"/>
<path fill="#d3d3d3" d="M497.8,677.0 504.0,673.8 514.0,673.8 524.0,676.2 534.0,680.0 537.0,683.8 531.5,685.5 525.2,685.5 520.2,690.0 514.0,687.5 507.8,682.5 501.5,680.0Z"/>
<path fill="#d3d3d3" d="M588.9,649.7 593.6,647.3 602.2,647.3 611.6,650.5 619.4,650.5 622.5,647.8 628.8,648.4 635.8,647.3 644.4,650.5 650.6,652.0 654.5,652.0 660.0,659.8 663.9,663.0 672.5,663.8 678.8,666.9 685.0,672.3 681.9,677.0 678.8,680.2 676.4,678.6 674.8,675.5 667.8,674.7 661.6,673.9 655.3,673.9 651.4,678.6 644.4,679.4 642.8,675.5 636.6,677.0 633.4,677.8 631.9,681.7 628.8,687.2 624.8,691.1 622.5,687.2 622.5,682.5 617.8,679.4 611.6,677.0 605.3,676.2 599.1,677.8 591.2,678.6 585.0,678.6 581.1,681.7 577.2,679.4 571.7,676.2 570.2,673.1 574.1,670.8 581.9,671.6 589.7,673.9 599.1,674.7 605.3,673.1 609.2,671.6 605.3,668.4 602.2,665.3 601.4,660.6 602.2,655.9 599.1,652.8 593.6,652.0 589.7,652.0Z"/>
<path fill="#d3d3d3" d="M592.0,665.6 595.9,665.3 600.6,667.7 599.8,669.7 595.2,668.4Z"/>
<path fill="#ffffff" d="M614.7,670.8 618.6,671.2 618.1,673.9 615.0,673.4Z"/>
<path fill="#ffffff" d="M620.2,672.3 625.6,673.9 624.8,675.8 620.2,674.4Z"/>
<path fill="#ffffff" d="M660.0,659.1 667.8,658.0 668.6,660.3 661.6,660.9Z"/>
<path fill="#ffffff" d="M598.3,644.2 603.8,644.7 604.5,645.9 599.1,645.5Z"/>
<path fill="#d3d3d3" d="M705.0,675.0 712.5,673.8 725.0,674.2 735.0,676.2 735.0,680.0 725.0,683.0 712.5,683.8 706.2,682.5Z"/>
<path fill="#ffffff" d="M752.0,671.2 756.2,669.5 762.0,670.0 760.0,673.8 755.0,676.2 752.0,675.0Z"/>
<path fill="#ffffff" d="M748.8,686.5 756.2,686.0 756.2,688.0 749.2,688.8Z"/>
<path fill="#d3d3d3" d="M500.7,549.0 504.0,549.8 505.7,556.4 509.8,563.1 512.8,569.7 512.3,574.7 509.0,575.5 505.7,569.7 502.4,563.9 497.4,560.6 495.7,558.1 499.1,554.8Z"/>
<path fill="#ffffff" d="M505.7,569.7 509.8,566.4 512.8,569.7 512.3,574.7 509.0,575.5Z"/>
<path fill="#ffffff" d="M495.7,558.1 499.1,554.8 500.7,557.3 498.2,561.1Z"/>
<path fill="#ffffff" d="M487.4,521.6 492.4,519.1 499.1,519.9 505.7,520.3 506.5,522.4 499.1,522.4 492.4,522.4 488.3,523.2Z"/>
<path fill="#d3d3d3" d="M492.4,519.6 499.1,520.1 503.2,520.4 503.2,521.6 493.2,521.6Z"/>
<path fill="#ffffff" d="M505.7,516.6 510.7,516.3 515.7,519.9 520.6,523.2 522.8,526.6 519.8,530.7 519.0,534.9 516.5,534.0 518.1,528.2 517.3,524.1 513.2,519.9 507.4,517.9Z"/>
<path fill="#d3d3d3" d="M518.1,523.2 521.5,524.9 521.8,527.4 519.5,529.9 518.5,527.4Z"/>
<path fill="#ffffff" d="M525.6,542.3 528.9,542.8 533.9,545.7 538.1,549.0 538.9,554.8 537.2,558.1 536.1,554.8 536.7,549.8 533.1,547.3 528.9,544.8 525.6,544.8Z"/>
<path fill="#ffffff" d="M512.3,550.6 519.8,549.5 520.1,550.8 512.8,552.1Z"/>
<path fill="#ffffff" d="M545.5,558.1 549.7,562.3 553.8,567.2 552.2,568.4 548.0,563.9 544.7,559.4Z"/>
<path fill="#ffffff" d="M533.9,567.2 538.1,573.0 543.0,578.0 549.7,581.3 548.9,582.5 542.2,579.4 537.2,574.4 533.1,568.4Z"/>
<path fill="#ffffff" d="M553.0,576.4 556.3,582.2 560.5,587.2 563.0,591.3 561.3,591.6 558.0,587.7 554.3,583.0 551.7,577.2Z"/>
<path fill="#ffffff" d="M572.1,592.6 577.1,593.8 580.9,595.5 579.6,599.6 576.2,602.1 573.8,604.6 574.9,601.6 577.9,598.8 578.2,596.6 573.8,595.0Z"/>
<path fill="#ffffff" d="M594.2,599.6 602.0,601.3 601.7,602.6 594.5,601.3Z"/>
<path fill="#ffffff" d="M607.8,612.9 612.8,610.9 616.9,609.6 621.9,612.1 626.1,614.6 625.2,617.0 620.2,614.6 616.1,612.1 611.1,613.2Z"/>
<path fill="#d3d3d3" d="M616.9,610.4 621.9,612.9 624.7,615.4 623.6,615.9 619.4,613.7Z"/>
<path fill="#d3d3d3" d="M584.6,624.5 589.5,622.9 595.3,621.2 597.5,617.0 598.7,618.7 597.0,623.7 592.9,627.0 587.0,628.2 584.9,627.0Z"/>
<path fill="#ffffff" d="M596.5,616.7 598.7,616.2 599.2,618.7 597.5,618.2Z"/>
<path fill="#ffffff" d="M631.9,617.0 633.0,617.0 633.0,618.9 631.9,618.9Z"/>
<path fill="#ffffff" d="M567.9,565.6 570.4,564.7 570.1,571.4 568.3,571.7Z"/>
<path fill="#ffffff" d="M558.8,575.5 563.0,576.0 562.6,577.4 559.0,577.0Z"/>
<path fill="#ffffff" d="M582.1,586.3 584.6,586.7 584.2,588.0 582.2,587.7Z"/>
<path fill="#ffffff" d="M504.9,542.3 508.2,541.8 508.5,543.5 505.2,544.0Z"/>
<path fill="#d3d3d3" d="M805.1,687.8 807.7,687.5 809.0,690.8 806.1,691.9Z"/>
<path fill="#d3d3d3" d="M805.1,699.3 809.0,698.5 809.7,701.4 805.8,702.2Z"/>
<path fill="#d3d3d3" d="M798.9,704.9 800.7,704.9 800.9,707.7 799.1,707.7Z"/>
<path fill="#d3d3d3" d="M807.2,713.7 811.2,714.2 811.2,719.5 809.5,721.8 807.7,719.5Z"/>
<path fill="#d3d3d3" d="M811.2,711.6 814.8,711.2 818.3,715.1 817.4,716.5 813.0,716.0Z"/>
<path fill="#d3d3d3" d="M816.0,720.7 818.3,720.7 818.3,723.0 816.0,723.0Z"/>
<path fill="#d3d3d3" d="M813.0,727.4 816.0,727.4 817.7,732.7 816.5,735.8 814.8,734.4Z"/>
<path fill="#d3d3d3" d="M818.3,741.8 821.8,742.3 825.3,746.7 824.8,750.6 821.8,749.4 819.2,745.9Z"/>
<path fill="#d3d3d3" d="M821.3,756.4 823.6,756.4 824.1,762.6 822.3,763.5 820.9,759.9Z"/>
<path fill="#ffffff" d="M781.3,678.1 784.9,677.8 785.0,682.5 781.9,682.7Z"/>
<path fill="#ffffff" d="M784.9,691.9 786.1,691.5 793.1,698.9 792.1,700.0Z"/>
<path fill="#ffffff" d="M817.0,770.5 819.5,770.0 819.5,774.0 817.4,774.5Z"/>
<path fill="#ffffff" d="M817.4,776.6 818.8,776.6 819.0,780.2 817.6,780.2Z"/>
<path fill="#ffffff" d="M807.7,791.6 810.4,790.7 810.7,794.2 808.6,796.0Z"/>
<path fill="#ffffff" d="M825.3,809.2 830.6,807.4 830.9,808.8 826.2,811.5Z"/>
<path fill="#ffffff" d="M812.1,784.6 813.5,784.0 813.9,787.2 812.5,787.6Z"/>
<path fill="#ffffff" d="M786.6,683.4 788.4,683.4 788.4,684.8 786.6,684.8Z"/>
<path fill="#ffffff" d="M824.1,746.4 825.8,747.1 825.3,751.1 824.4,750.6Z"/>
<path fill="#ffffff" d="M810.4,710.7 812.5,710.3 812.6,711.9 810.7,712.3Z"/>
<path fill="#80ff80" d="M534.3,322.3 537.2,317.4 538.7,316.4 542.1,317.4 543.1,320.3 541.9,325.2 543.1,329.1 538.2,328.1 535.3,325.2Z"/>
<path fill="#aaff55" d="M535.3,316.4 536.2,310.5 538.2,305.7 542.1,306.6 546.0,308.6 547.0,311.5 544.1,313.5 542.1,317.4 538.2,316.9Z"/>
<path fill="#d4ff2a" d="M531.2,295.9 532.1,291.0 534.1,285.9 537.2,285.4 538.4,291.0 537.8,295.9 538.8,300.8 540.9,304.7 539.4,306.8 535.3,306.4 532.6,300.8Z"/>
<path fill="#d4ff2a" d="M535.5,307.0 529.6,305.1 523.8,302.2 519.8,300.2 517.3,300.6 518.7,297.1 517.6,296.7 516.2,301.0 519.5,301.4 523.3,303.3 529.2,306.2 535.1,308.2Z"/>
<path fill="#ffffff" d="M536.4,314.0 530.6,311.6 524.7,308.7 524.3,309.5 530.2,312.4 536.1,314.9Z"/>
<path fill="#ffffff" d="M534.5,319.9 529.6,317.9 525.6,316.9 525.4,317.8 529.3,318.8 534.1,320.7Z"/>
<path fill="#ffffff" d="M534.3,322.6 529.4,323.0 524.6,322.3 517.8,320.4 517.6,321.2 524.4,323.2 529.4,323.9 534.3,323.5Z"/>
<path fill="#d4ff2a" d="M535.2,286.9 538.6,282.6 541.5,279.7 540.8,278.9 537.8,281.9 534.4,286.3Z"/>
<path fill="#ffffff" d="M543.0,325.3 544.4,321.5 547.3,316.6 551.2,311.8 555.1,307.9 554.5,307.3 550.6,311.3 546.7,316.2 543.7,321.1 542.2,325.1Z"/>
<path fill="#2affd4" d="M550.9,283.2 553.8,284.7 557.7,286.6 561.2,287.6 561.6,290.0 559.7,291.5 555.8,290.5 552.9,287.6 550.9,285.2Z"/>
<path fill="#55ffaa" d="M557.7,291.0 563.6,290.5 563.6,294.9 559.7,295.9 558.2,293.5Z"/>
<path fill="#ffffff" d="M551.3,283.0 549.3,279.3 551.2,275.7 552.9,275.3 552.8,274.5 550.6,275.1 548.5,279.3 550.5,283.4Z"/>
<path fill="#d4ff2a" d="M538.0,355.4 546.2,352.6 550.3,354.0 550.9,358.5 547.6,360.8 542.1,362.9 538.0,363.6 535.3,366.7 532.3,370.0 530.5,367.0 533.9,364.3Z"/>
<path fill="#ffff00" d="M529.1,358.8 533.9,356.7 539.4,358.1 540.1,362.2 536.6,364.9 531.9,365.6 529.1,362.9Z"/>
<path fill="#ffa200" d="M534.6,352.6 540.1,352.0 541.0,356.1 536.0,357.1Z"/>
<path fill="#d4ff2a" d="M527.8,344.0 533.9,343.1 546.2,344.0 548.4,347.2 546.2,350.9 544.6,348.1 538.0,346.2 529.1,347.2Z"/>
<path fill="#ffffff" d="M532.1,371.0 535.5,367.6 542.3,363.5 547.7,361.5 551.6,359.2 552.1,353.3 549.6,346.3 546.9,340.9 544.8,335.4 542.8,329.9 542.0,330.2 544.1,335.7 546.1,341.2 548.9,346.6 551.3,353.4 550.9,358.9 547.4,360.7 541.9,362.8 535.0,366.9 531.6,370.4Z"/>
<path fill="#d3d3d3" d="M576.9,259.0 581.1,256.2 593.8,253.7 607.8,250.6 620.5,248.9 621.3,250.6 607.8,253.4 593.8,256.2 579.7,260.7Z"/>
<path fill="#ffffff" d="M577.5,260.5 593.8,256.9 607.9,254.0 621.4,251.2 621.2,250.5 607.7,253.3 593.7,256.1 577.4,259.7Z"/>
<path fill="#e80000" d="M759.8,171.2 767.7,170.9 766.9,172.5 763.0,173.8 760.3,174.8Z"/>
<path fill="#ffff00" d="M752.8,170.9 756.2,171.2 756.7,172.8 753.1,172.5Z"/>
<path fill="#80ff80" d="M315.8,445.2 317.2,445.2 319.9,452.3 313.9,452.3Z"/>
<path fill="#ffa200" d="M315.8,442.8 317.7,442.8 317.7,444.4 315.8,444.4Z"/>
<path fill="#80ff80" d="M331.3,448.2 334.4,448.5 335.0,451.7 330.9,451.7Z"/>
<path fill="#ff4600" d="M368.2,460.8 374.1,460.3 374.6,463.0 368.9,463.6Z"/>
<path fill="#d4ff2a" d="M623.2,816.2 626.2,816.2 627.1,823.0 631.5,830.2 634.4,837.5 632.7,844.8 626.6,849.1 620.6,848.4 617.0,842.3 614.5,836.3 618.2,830.2 622.3,824.2Z"/>
<path fill="#ffff00" d="M617.0,803.6 627.9,800.0 636.3,808.4 626.6,814.5 623.0,816.9 620.6,812.1Z"/>
<path fill="#d3d3d3" d="M812.6,819.3 822.8,817.6 822.8,829.5 813.1,829.5 810.2,825.4Z"/>
<path fill="#ffffff" d="M710.2,795.8 717.5,796.3 717.2,800.0 710.7,799.5Z"/>
<path fill="#ffffff" d="M669.0,788.6 670.7,788.1 674.1,792.9 672.7,793.9Z"/>
<path fill="#ffffff" d="M683.6,790.3 685.5,789.5 687.2,793.4 685.2,793.9Z"/>
<path fill="#ffffff" d="M694.0,828.8 698.1,828.3 698.3,830.7 694.5,831.0Z"/>
<path fill="#ffffff" d="M739.3,814.7 742.9,814.5 742.9,816.2 739.5,816.4Z"/>
<path fill="#ffffff" d="M706.6,834.6 709.0,835.6 708.0,837.0Z"/>
<path fill="#ffffff" d="M702.2,848.6 704.1,848.2 704.1,852.0 702.4,852.0Z"/>
<path fill="#ffffff" d="M807.8,791.0 810.2,790.5 810.2,794.4 808.0,794.9Z"/>
<path fill="#ffffff" d="M817.2,769.7 819.2,769.7 819.2,774.0 817.5,774.0Z"/>
<path fill="#ffffff" d="M821.8,760.0 823.8,760.0 823.5,762.9 822.1,762.9Z"/>
<path fill="#ffffff" d="M825.7,809.2 830.1,808.0 830.6,809.4 826.2,810.9Z"/>
<path fill="#ffffff" d="M754.0,796.8 755.5,796.8 755.5,798.8 754.0,798.8Z"/>
<path fill="#ffffff" d="M724.7,796.8 726.9,797.3 726.4,799.2Z"/>
<path fill="#ffffff" d="M649.6,801.2 658.1,800.7 658.1,805.5 650.4,806.0Z"/>
<path fill="#ffffff" d="M600.0,798.8 609.7,792.7 619.4,787.1 623.0,787.1 614.5,792.7 604.8,798.8 600.0,802.4Z"/>
<path fill="#ffffff" d="M793.8,830.2 796.7,830.7 801.0,839.9 803.0,849.6 800.5,856.9 808.3,857.4 808.3,859.3 797.4,859.3 799.1,850.1 796.7,841.1Z"/>
<path fill="#ffffff" d="M819.2,853.2 827.7,852.0 828.1,858.1 820.4,858.8Z"/>
<path fill="#ffffff" d="M787.7,824.2 791.3,823.5 793.8,829.0 791.8,830.2Z"/>
<path fill="#ffffff" d="M813.1,774.5 814.6,774.5 814.8,779.4 813.4,779.4Z"/>
<path fill="#ffffff" d="M811.2,783.0 812.6,783.0 812.6,786.6 811.2,786.6Z"/>
<path fill="#d3d3d3" d="M758.6,812.8 764.7,811.3 769.5,812.8 769.0,816.2 762.3,817.2 758.9,815.7Z"/>
<path fill="#ffffff" d="M757.9,813.8 759.4,811.8 760.3,814.7 758.9,816.7Z"/>
<path fill="#ffffff" d="M762.3,819.6 769.5,819.1 770.0,822.5 762.8,823.5Z"/>
<path fill="#ffff00" d="M762.8,820.5 767.6,820.1 768.1,822.0 763.2,822.5Z"/>
<path fill="#ffffff" d="M342.3,716.0 348.5,713.4 357.3,711.6 356.4,713.1 349.3,715.2 344.1,717.3Z"/>
<path fill="#ffffff" d="M345.8,717.3 355.5,715.5 359.9,714.6 359.0,716.0 348.5,718.2Z"/>
<path fill="#ffffff" d="M317.7,692.3 320.3,691.4 320.0,696.7 317.9,697.6Z"/>
<path fill="#ffffff" d="M366.4,828.0 368.2,827.3 373.1,831.6 377.5,835.6 375.7,836.8 371.3,833.8 367.8,832.6Z"/>
<path fill="#ffffff" d="M355.5,815.7 359.9,816.4 359.0,820.7 357.6,825.9 355.5,824.2Z"/>
<path fill="#ffffff" d="M749.7,415.9 752.7,414.6 752.3,413.8 749.3,415.1Z"/>
<path fill="#ffffff" d="M335.2,638.1 337.5,634.0 340.6,632.5 341.3,635.1 339.0,638.4 336.0,640.9Z"/>
<path fill="#d3d3d3" d="M336.2,637.9 338.0,634.8 340.0,633.8 340.3,635.1 338.5,637.6 336.7,639.6Z"/>
<path fill="#ffffff" d="M326.2,670.5 328.1,669.2 330.0,671.1 328.7,674.7 326.5,674.3Z"/>
<path fill="#ffffff" d="M322.0,651.4 326.2,650.6 327.5,653.3 324.3,654.6 324.9,657.2 323.3,659.7 322.4,657.2 323.3,654.0Z"/>
<path fill="#e8f0c0" d="M317.3,694.0 319.8,691.7 320.5,694.0 318.6,697.8Z"/>
<path fill="#ffffff" d="M460.0,547.7 452.6,552.1 441.9,556.1 430.9,559.4 431.1,560.1 442.1,556.9 452.9,552.9 460.5,548.3Z"/>
<path fill="#00d1ff" d="M685 183h1v1h-1zM683 186h1v1h-1zM685 187h1v1h-1zM684 188h1v1h-1z"/>
<path fill="#80ff80" d="M190 463h1v1h-1zM184 464h7v1h-7zM184 465h7v1h-7zM185 466h3v1h-3zM190 466h2v1h-2zM185 467h7v1h-7zM186 468h2v1h-2zM186 469h1v1h-1z"/>
<path fill="#aaff55" d="M287 451h1v1h-1zM289 452h1v1h-1zM278 462h1v1h-1zM288 463h1v1h-1zM284 467h1v1h-1zM276 469h1v1h-1zM284 469h1v1h-1zM264 471h1v1h-1zM419 494h1v1h-1zM416 495h1v1h-1zM419 495h1v1h-1zM418 497h2v1h-2zM415 498h2v1h-2zM415 499h1v1h-1zM417 499h1v1h-1zM420 500h1v1h-1zM419 501h1v1h-1zM417 502h1v1h-1zM420 502h1v1h-1z"/>
<path fill="#d4ff2a" d="M538 299h1v1h-1zM545 300h1v1h-1zM536 301h1v1h-1zM541 301h1v1h-1zM541 303h1v1h-1zM544 303h1v1h-1zM535 304h1v1h-1zM543 304h1v1h-1zM541 306h1v1h-1zM543 306h1v1h-1zM540 307h1v1h-1zM530 338h1v1h-1zM524 344h1v1h-1zM529 344h1v1h-1zM531 344h1v1h-1zM542 346h1v1h-1zM545 353h1v1h-1zM533 355h2v1h-2zM548 355h1v1h-1zM540 356h1v1h-1zM534 357h1v1h-1zM538 363h1v1h-1zM290 451h1v1h-1zM277 452h1v1h-1zM217 455h1v1h-1zM227 457h1v1h-1zM201 458h1v1h-1zM237 458h1v1h-1zM203 459h1v1h-1zM226 459h1v1h-1zM231 459h1v1h-1zM287 459h1v1h-1zM210 460h1v1h-1zM218 460h1v1h-1zM235 460h1v1h-1zM290 460h1v1h-1zM227 461h1v1h-1zM201 462h1v1h-1zM235 462h1v1h-1zM237 462h1v1h-1zM223 463h1v1h-1zM238 463h1v1h-1zM240 463h1v1h-1zM287 463h1v1h-1zM266 465h1v1h-1zM269 465h1v1h-1zM269 466h1v1h-1zM275 466h1v1h-1zM278 466h1v1h-1zM289 466h1v1h-1zM278 468h1v1h-1zM273 469h1v1h-1zM273 470h1v1h-1zM293 472h1v1h-1zM137 543h1v1h-1zM133 546h1v1h-1zM138 546h1v1h-1zM136 549h1v1h-1z"/>
<path fill="#ffff00" d="M755 161h1v1h-1zM726 169h1v1h-1zM716 173h1v1h-1zM716 174h1v1h-1zM707 178h1v1h-1zM688 185h1v1h-1zM690 185h2v1h-2zM689 186h1v1h-1zM536 296h1v1h-1zM541 296h1v1h-1zM538 298h1v1h-1zM544 300h1v1h-1zM546 301h1v1h-1zM544 302h1v1h-1zM538 304h1v1h-1zM538 305h1v1h-1zM540 306h1v1h-1zM541 307h1v1h-1zM545 307h1v1h-1zM513 326h1v1h-1zM520 331h1v1h-1zM536 339h1v1h-1zM545 340h1v1h-1zM511 341h1v1h-1zM524 342h1v1h-1zM530 342h1v1h-1zM543 343h1v1h-1zM548 349h1v1h-1zM534 350h1v1h-1zM532 351h1v1h-1zM528 356h1v1h-1zM539 356h1v1h-1zM532 360h1v1h-1zM537 364h1v1h-1zM437 449h1v1h-1zM274 450h1v1h-1zM438 450h1v1h-1zM265 451h1v1h-1zM270 451h1v1h-1zM272 451h2v1h-2zM263 452h2v1h-2zM270 452h2v1h-2zM273 452h2v1h-2zM287 452h1v1h-1zM291 452h1v1h-1zM296 452h1v1h-1zM263 453h4v1h-4zM271 453h4v1h-4zM285 453h1v1h-1zM230 454h1v1h-1zM232 454h1v1h-1zM237 454h1v1h-1zM267 454h1v1h-1zM269 454h6v1h-6zM276 454h1v1h-1zM291 454h1v1h-1zM293 454h1v1h-1zM223 455h2v1h-2zM263 455h3v1h-3zM270 455h1v1h-1zM273 455h1v1h-1zM292 455h1v1h-1zM294 455h1v1h-1zM204 456h1v1h-1zM221 456h1v1h-1zM224 456h1v1h-1zM229 456h1v1h-1zM233 456h1v1h-1zM264 456h2v1h-2zM268 456h2v1h-2zM271 456h1v1h-1zM274 456h2v1h-2zM281 456h1v1h-1zM285 456h1v1h-1zM292 456h1v1h-1zM200 457h1v1h-1zM205 457h1v1h-1zM214 457h1v1h-1zM235 457h1v1h-1zM239 457h1v1h-1zM263 457h1v1h-1zM266 457h1v1h-1zM268 457h1v1h-1zM271 457h2v1h-2zM284 457h1v1h-1zM287 457h1v1h-1zM289 457h3v1h-3zM200 458h1v1h-1zM211 458h2v1h-2zM226 458h1v1h-1zM228 458h2v1h-2zM232 458h1v1h-1zM239 458h1v1h-1zM271 458h1v1h-1zM275 458h1v1h-1zM282 458h1v1h-1zM291 458h1v1h-1zM212 459h1v1h-1zM216 459h1v1h-1zM232 459h1v1h-1zM241 459h1v1h-1zM266 459h1v1h-1zM288 459h1v1h-1zM439 459h1v1h-1zM212 460h1v1h-1zM217 460h1v1h-1zM221 460h1v1h-1zM228 460h1v1h-1zM280 460h1v1h-1zM203 461h1v1h-1zM216 461h1v1h-1zM221 461h1v1h-1zM224 461h1v1h-1zM231 461h1v1h-1zM279 461h1v1h-1zM282 461h1v1h-1zM204 462h1v1h-1zM207 462h1v1h-1zM212 462h1v1h-1zM215 462h1v1h-1zM218 462h2v1h-2zM221 462h1v1h-1zM224 462h1v1h-1zM226 462h2v1h-2zM231 462h3v1h-3zM268 462h1v1h-1zM270 462h1v1h-1zM274 462h1v1h-1zM287 462h1v1h-1zM437 462h1v1h-1zM440 462h1v1h-1zM197 463h1v1h-1zM202 463h1v1h-1zM219 463h1v1h-1zM221 463h1v1h-1zM227 463h1v1h-1zM266 463h2v1h-2zM274 463h1v1h-1zM200 464h1v1h-1zM239 464h1v1h-1zM242 464h1v1h-1zM263 464h1v1h-1zM269 464h1v1h-1zM274 464h1v1h-1zM262 465h1v1h-1zM264 465h1v1h-1zM271 465h1v1h-1zM273 465h1v1h-1zM276 465h1v1h-1zM283 465h1v1h-1zM289 465h1v1h-1zM183 466h1v1h-1zM262 466h1v1h-1zM281 466h1v1h-1zM269 467h2v1h-2zM275 467h1v1h-1zM278 467h1v1h-1zM281 467h2v1h-2zM279 468h1v1h-1zM284 468h1v1h-1zM286 468h1v1h-1zM289 468h1v1h-1zM263 469h1v1h-1zM265 469h1v1h-1zM277 469h1v1h-1zM279 469h1v1h-1zM281 469h3v1h-3zM286 469h1v1h-1zM289 469h1v1h-1zM404 469h1v1h-1zM267 470h1v1h-1zM271 470h1v1h-1zM274 470h1v1h-1zM290 470h1v1h-1zM404 470h4v1h-4zM444 470h1v1h-1zM405 471h1v1h-1zM407 471h2v1h-2zM411 471h1v1h-1zM179 472h1v1h-1zM264 472h1v1h-1zM268 472h1v1h-1zM404 472h1v1h-1zM406 472h2v1h-2zM409 472h1v1h-1zM411 472h2v1h-2zM181 473h1v1h-1zM291 473h1v1h-1zM405 473h4v1h-4zM410 473h1v1h-1zM406 474h3v1h-3zM410 474h4v1h-4zM410 475h2v1h-2zM413 475h1v1h-1zM409 476h1v1h-1zM411 476h2v1h-2zM411 477h3v1h-3zM412 478h1v1h-1zM414 478h1v1h-1zM413 479h3v1h-3zM449 479h1v1h-1zM412 480h4v1h-4zM413 481h1v1h-1zM414 483h1v1h-1zM415 484h1v1h-1zM453 486h1v1h-1zM145 499h1v1h-1zM134 507h1v1h-1zM135 513h1v1h-1zM134 515h1v1h-1zM140 515h1v1h-1zM140 519h1v1h-1zM139 520h1v1h-1zM137 523h1v1h-1zM140 529h1v1h-1zM133 530h1v1h-1zM140 531h1v1h-1zM442 535h1v1h-1zM439 536h1v1h-1zM446 536h1v1h-1zM137 538h1v1h-1zM442 538h1v1h-1zM442 539h2v1h-2zM447 539h1v1h-1zM443 540h1v1h-1zM138 541h1v1h-1zM443 541h1v1h-1zM446 541h2v1h-2zM132 542h1v1h-1zM137 542h2v1h-2zM444 543h1v1h-1zM447 543h1v1h-1zM445 544h1v1h-1zM128 545h1v1h-1zM449 545h1v1h-1zM132 546h1v1h-1zM131 548h1v1h-1zM136 548h1v1h-1zM131 549h1v1h-1zM137 549h1v1h-1zM136 551h1v1h-1zM135 552h1v1h-1zM135 556h1v1h-1z"/>
<path fill="#ffd100" d="M557 278h1v1h-1zM553 279h1v1h-1zM549 284h1v1h-1zM557 285h1v1h-1zM557 286h1v1h-1zM558 289h1v1h-1zM538 297h1v1h-1zM543 297h1v1h-1zM538 301h1v1h-1zM541 302h1v1h-1zM537 305h1v1h-1zM542 305h1v1h-1zM537 308h2v1h-2zM542 308h1v1h-1zM522 328h1v1h-1zM514 330h1v1h-1zM524 332h1v1h-1zM523 334h1v1h-1zM535 340h1v1h-1zM538 340h1v1h-1zM527 343h1v1h-1zM535 345h1v1h-1zM513 346h1v1h-1zM546 346h1v1h-1zM536 347h1v1h-1zM526 349h1v1h-1zM536 349h1v1h-1zM541 353h1v1h-1zM548 353h1v1h-1zM524 355h1v1h-1zM546 355h1v1h-1zM535 362h1v1h-1zM457 406h1v1h-1zM461 406h1v1h-1zM454 408h1v1h-1zM459 409h1v1h-1zM453 414h1v1h-1zM448 418h1v1h-1zM449 419h1v1h-1zM440 420h1v1h-1zM446 420h1v1h-1zM436 422h1v1h-1zM439 423h1v1h-1zM441 424h1v1h-1zM441 425h1v1h-1zM437 433h1v1h-1zM439 439h1v1h-1zM438 442h1v1h-1zM263 451h2v1h-2zM266 451h1v1h-1zM268 451h1v1h-1zM274 451h1v1h-1zM267 452h1v1h-1zM282 452h1v1h-1zM292 452h2v1h-2zM268 453h1v1h-1zM270 453h1v1h-1zM222 454h1v1h-1zM226 454h1v1h-1zM234 454h1v1h-1zM240 454h1v1h-1zM264 454h3v1h-3zM290 454h1v1h-1zM230 455h1v1h-1zM232 455h1v1h-1zM266 455h1v1h-1zM268 455h1v1h-1zM271 455h2v1h-2zM287 455h1v1h-1zM289 455h1v1h-1zM291 455h1v1h-1zM203 456h1v1h-1zM206 456h1v1h-1zM209 456h1v1h-1zM237 456h1v1h-1zM266 456h1v1h-1zM272 456h1v1h-1zM286 456h1v1h-1zM203 457h1v1h-1zM216 457h1v1h-1zM219 457h1v1h-1zM238 457h1v1h-1zM267 457h1v1h-1zM270 457h1v1h-1zM274 457h1v1h-1zM283 457h1v1h-1zM204 458h1v1h-1zM208 458h1v1h-1zM213 458h1v1h-1zM219 458h1v1h-1zM222 458h1v1h-1zM230 458h1v1h-1zM279 458h1v1h-1zM289 458h1v1h-1zM439 458h1v1h-1zM205 459h1v1h-1zM207 459h1v1h-1zM213 459h1v1h-1zM215 459h1v1h-1zM223 459h1v1h-1zM235 459h1v1h-1zM237 459h1v1h-1zM271 459h1v1h-1zM273 459h1v1h-1zM279 459h1v1h-1zM290 459h1v1h-1zM209 460h1v1h-1zM213 460h1v1h-1zM219 460h2v1h-2zM226 460h1v1h-1zM229 460h2v1h-2zM271 460h1v1h-1zM285 460h1v1h-1zM289 460h1v1h-1zM204 461h1v1h-1zM222 461h1v1h-1zM225 461h1v1h-1zM232 461h1v1h-1zM276 461h1v1h-1zM286 461h1v1h-1zM203 462h1v1h-1zM208 462h1v1h-1zM213 462h2v1h-2zM230 462h1v1h-1zM240 462h2v1h-2zM263 462h1v1h-1zM265 462h1v1h-1zM279 462h1v1h-1zM282 462h1v1h-1zM284 462h2v1h-2zM203 463h1v1h-1zM218 463h1v1h-1zM220 463h1v1h-1zM224 463h2v1h-2zM228 463h2v1h-2zM233 463h1v1h-1zM237 463h1v1h-1zM276 463h1v1h-1zM280 463h1v1h-1zM271 464h1v1h-1zM280 464h1v1h-1zM288 464h1v1h-1zM280 465h1v1h-1zM285 465h1v1h-1zM287 465h1v1h-1zM440 465h1v1h-1zM265 466h1v1h-1zM273 466h1v1h-1zM277 466h1v1h-1zM280 466h1v1h-1zM285 466h1v1h-1zM272 467h2v1h-2zM276 467h1v1h-1zM290 467h1v1h-1zM262 468h1v1h-1zM272 468h1v1h-1zM290 468h1v1h-1zM266 469h1v1h-1zM285 469h1v1h-1zM265 470h1v1h-1zM268 470h1v1h-1zM289 470h1v1h-1zM292 470h1v1h-1zM270 471h1v1h-1zM272 471h1v1h-1zM289 471h1v1h-1zM404 471h1v1h-1zM406 471h1v1h-1zM409 471h2v1h-2zM445 471h1v1h-1zM262 472h1v1h-1zM408 472h1v1h-1zM410 472h1v1h-1zM292 473h1v1h-1zM409 473h1v1h-1zM412 473h1v1h-1zM409 474h1v1h-1zM412 475h1v1h-1zM410 476h1v1h-1zM413 476h1v1h-1zM410 477h1v1h-1zM411 478h1v1h-1zM413 478h1v1h-1zM415 478h1v1h-1zM414 481h1v1h-1zM167 482h1v1h-1zM415 482h1v1h-1zM163 483h1v1h-1zM415 483h1v1h-1zM159 486h1v1h-1zM145 498h1v1h-1zM441 535h1v1h-1zM440 536h1v1h-1zM442 536h1v1h-1zM446 537h1v1h-1zM441 538h1v1h-1zM443 538h1v1h-1zM447 538h1v1h-1zM441 539h1v1h-1zM442 540h1v1h-1zM446 540h3v1h-3zM444 541h1v1h-1zM448 541h1v1h-1zM446 542h1v1h-1zM448 543h1v1h-1zM448 544h3v1h-3zM447 545h1v1h-1z"/>
<path fill="#ffa200" d="M547 279h1v1h-1zM560 279h1v1h-1zM559 281h1v1h-1zM555 282h1v1h-1zM556 283h1v1h-1zM565 283h1v1h-1zM558 287h1v1h-1zM553 291h1v1h-1zM524 328h1v1h-1zM516 329h1v1h-1zM528 331h1v1h-1zM535 337h1v1h-1zM543 338h1v1h-1zM521 340h1v1h-1zM520 341h2v1h-2zM540 341h1v1h-1zM547 345h1v1h-1zM526 346h1v1h-1zM537 346h1v1h-1zM515 350h1v1h-1zM532 350h1v1h-1zM518 354h1v1h-1zM546 354h1v1h-1zM539 362h1v1h-1zM532 363h1v1h-1zM531 364h1v1h-1zM524 365h1v1h-1zM536 365h1v1h-1zM528 368h1v1h-1zM463 402h1v1h-1zM458 404h1v1h-1zM463 406h1v1h-1zM461 408h1v1h-1zM456 410h1v1h-1zM459 410h1v1h-1zM456 411h1v1h-1zM450 416h1v1h-1zM435 439h1v1h-1zM435 441h1v1h-1zM438 444h1v1h-1zM266 452h1v1h-1zM283 452h1v1h-1zM294 452h1v1h-1zM275 453h1v1h-1zM286 453h1v1h-1zM288 453h1v1h-1zM292 454h1v1h-1zM297 454h1v1h-1zM438 454h1v1h-1zM220 455h1v1h-1zM233 455h1v1h-1zM293 455h1v1h-1zM216 456h1v1h-1zM218 456h1v1h-1zM225 456h1v1h-1zM235 456h1v1h-1zM240 456h1v1h-1zM262 456h1v1h-1zM294 456h1v1h-1zM232 457h1v1h-1zM234 457h1v1h-1zM266 458h1v1h-1zM292 458h1v1h-1zM201 459h1v1h-1zM206 459h1v1h-1zM208 459h3v1h-3zM221 459h1v1h-1zM236 459h1v1h-1zM238 459h1v1h-1zM284 459h1v1h-1zM291 459h1v1h-1zM437 459h1v1h-1zM202 460h1v1h-1zM205 460h1v1h-1zM207 460h1v1h-1zM222 460h1v1h-1zM232 460h1v1h-1zM238 460h1v1h-1zM439 460h1v1h-1zM210 461h3v1h-3zM217 461h1v1h-1zM236 461h1v1h-1zM240 461h1v1h-1zM205 462h1v1h-1zM222 462h1v1h-1zM236 462h1v1h-1zM242 462h1v1h-1zM276 462h2v1h-2zM280 462h2v1h-2zM201 463h1v1h-1zM216 463h1v1h-1zM230 463h3v1h-3zM236 463h1v1h-1zM242 463h1v1h-1zM271 463h1v1h-1zM278 463h1v1h-1zM285 463h1v1h-1zM241 464h1v1h-1zM259 464h1v1h-1zM261 464h2v1h-2zM272 464h1v1h-1zM256 465h1v1h-1zM259 465h1v1h-1zM265 465h1v1h-1zM274 465h1v1h-1zM279 465h1v1h-1zM282 465h1v1h-1zM255 466h1v1h-1zM259 466h1v1h-1zM264 466h1v1h-1zM283 466h1v1h-1zM253 467h1v1h-1zM255 467h1v1h-1zM258 467h1v1h-1zM261 467h1v1h-1zM267 467h1v1h-1zM280 467h1v1h-1zM286 467h1v1h-1zM440 467h1v1h-1zM255 468h2v1h-2zM259 468h2v1h-2zM271 468h1v1h-1zM255 469h2v1h-2zM271 469h2v1h-2zM288 469h1v1h-1zM290 469h1v1h-1zM263 470h1v1h-1zM275 470h1v1h-1zM443 470h1v1h-1zM269 471h1v1h-1zM271 471h1v1h-1zM292 471h1v1h-1zM259 472h1v1h-1zM265 472h1v1h-1zM443 472h1v1h-1zM448 478h1v1h-1zM449 481h1v1h-1zM440 537h1v1h-1zM442 537h1v1h-1zM444 537h1v1h-1zM446 538h1v1h-1zM445 539h1v1h-1zM445 541h1v1h-1zM444 542h1v1h-1zM447 542h1v1h-1zM449 542h1v1h-1zM449 543h1v1h-1zM448 545h1v1h-1z"/>
<path fill="#ff7400" d="M540 339h1v1h-1zM519 355h1v1h-1zM537 358h1v1h-1zM524 359h1v1h-1zM534 365h1v1h-1zM502 377h1v1h-1zM507 377h1v1h-1zM505 378h1v1h-1zM498 380h1v1h-1zM483 386h1v1h-1zM483 387h1v1h-1zM487 387h1v1h-1zM485 390h1v1h-1zM482 391h1v1h-1zM470 393h1v1h-1zM479 398h1v1h-1zM469 402h1v1h-1zM447 409h1v1h-1zM437 417h1v1h-1zM440 418h1v1h-1zM438 419h1v1h-1zM435 431h1v1h-1zM282 454h1v1h-1zM278 455h1v1h-1zM288 455h1v1h-1zM205 456h1v1h-1zM231 456h1v1h-1zM293 456h1v1h-1zM208 457h1v1h-1zM225 458h1v1h-1zM202 459h1v1h-1zM228 459h1v1h-1zM234 459h1v1h-1zM201 460h1v1h-1zM213 461h1v1h-1zM230 461h1v1h-1zM283 461h1v1h-1zM200 462h1v1h-1zM206 462h1v1h-1zM211 462h1v1h-1zM234 462h1v1h-1zM286 463h1v1h-1zM254 464h1v1h-1zM256 464h3v1h-3zM255 465h1v1h-1zM257 465h2v1h-2zM260 465h2v1h-2zM278 465h1v1h-1zM286 465h1v1h-1zM257 466h1v1h-1zM260 466h2v1h-2zM263 466h1v1h-1zM288 466h1v1h-1zM254 467h1v1h-1zM256 467h1v1h-1zM259 467h2v1h-2zM262 467h3v1h-3zM287 467h1v1h-1zM289 467h1v1h-1zM185 468h1v1h-1zM254 468h1v1h-1zM263 468h1v1h-1zM283 468h1v1h-1zM180 469h1v1h-1zM253 469h2v1h-2zM257 469h1v1h-1zM260 469h2v1h-2zM264 469h1v1h-1zM274 469h1v1h-1zM287 469h1v1h-1zM255 470h1v1h-1zM258 470h2v1h-2zM261 470h2v1h-2zM257 471h1v1h-1zM259 471h3v1h-3zM265 471h2v1h-2zM178 472h1v1h-1zM184 472h1v1h-1zM266 472h1v1h-1zM182 473h1v1h-1zM176 475h1v1h-1zM175 476h1v1h-1zM177 476h1v1h-1z"/>
<path fill="#ff4600" d="M522 339h1v1h-1zM534 340h1v1h-1zM523 346h1v1h-1zM497 370h1v1h-1zM499 379h1v1h-1zM504 380h1v1h-1zM318 449h1v1h-1zM354 450h1v1h-1zM359 453h1v1h-1zM361 454h1v1h-1zM367 455h1v1h-1zM376 455h2v1h-2zM378 457h1v1h-1zM367 458h1v1h-1zM381 458h1v1h-1zM374 459h1v1h-1zM371 460h2v1h-2zM370 461h1v1h-1zM372 461h1v1h-1zM374 461h1v1h-1zM255 464h1v1h-1zM253 465h2v1h-2zM254 466h1v1h-1zM256 466h1v1h-1zM258 466h1v1h-1zM257 467h1v1h-1zM253 468h1v1h-1zM257 468h2v1h-2zM261 468h1v1h-1zM264 468h2v1h-2zM258 469h1v1h-1zM262 469h1v1h-1zM256 470h2v1h-2zM260 470h1v1h-1zM264 470h1v1h-1zM258 471h1v1h-1zM262 471h1v1h-1zM448 536h1v1h-1zM447 537h1v1h-1zM457 537h1v1h-1zM448 538h1v1h-1zM456 538h1v1h-1zM457 539h1v1h-1zM449 540h1v1h-1zM455 540h1v1h-1zM457 540h1v1h-1zM449 541h7v1h-7zM457 541h1v1h-1zM451 542h1v1h-1zM454 542h2v1h-2zM450 543h1v1h-1zM452 543h3v1h-3zM456 543h1v1h-1zM451 544h1v1h-1zM454 544h2v1h-2zM451 545h1v1h-1zM453 545h1v1h-1zM455 545h1v1h-1zM455 546h1v1h-1z"/>
<path fill="#ff1700" d="M390 452h1v1h-1zM253 457h1v1h-1zM395 457h1v1h-1zM399 457h1v1h-1zM253 458h1v1h-1zM255 458h1v1h-1zM257 458h2v1h-2zM260 458h1v1h-1zM255 459h6v1h-6zM370 459h1v1h-1zM372 459h2v1h-2zM255 460h1v1h-1zM259 460h1v1h-1zM261 460h1v1h-1zM370 460h1v1h-1zM259 461h3v1h-3zM371 461h1v1h-1zM254 462h1v1h-1zM258 462h1v1h-1zM262 462h1v1h-1zM258 463h1v1h-1zM261 463h2v1h-2zM453 534h1v1h-1zM449 535h3v1h-3zM453 535h1v1h-1zM447 536h1v1h-1zM449 536h1v1h-1zM451 536h1v1h-1zM453 536h4v1h-4zM448 537h1v1h-1zM450 537h3v1h-3zM454 537h3v1h-3zM450 538h1v1h-1zM453 538h2v1h-2zM457 538h1v1h-1zM448 539h1v1h-1zM450 539h7v1h-7zM450 540h5v1h-5zM456 540h1v1h-1zM456 541h1v1h-1zM450 542h1v1h-1zM452 542h2v1h-2zM456 542h2v1h-2zM451 543h1v1h-1zM455 543h1v1h-1zM452 544h2v1h-2zM456 544h1v1h-1zM454 545h1v1h-1z"/>
<path fill="#e80000" d="M254 458h1v1h-1zM256 458h1v1h-1zM259 458h1v1h-1zM254 459h1v1h-1zM254 460h1v1h-1zM256 460h1v1h-1zM258 460h1v1h-1zM254 461h2v1h-2zM257 461h2v1h-2zM255 462h3v1h-3zM259 462h2v1h-2zM255 463h1v1h-1zM257 463h1v1h-1zM259 463h2v1h-2zM452 535h1v1h-1zM454 535h1v1h-1zM450 536h1v1h-1zM452 536h1v1h-1zM449 537h1v1h-1zM453 537h1v1h-1zM451 538h2v1h-2zM455 538h1v1h-1z"/>
<path fill="#8b0000" d="M634 215h1v1h-1zM634 222h1v1h-1zM636 229h1v1h-1zM632 232h2v1h-2zM632 233h1v1h-1zM637 235h1v1h-1zM635 237h1v1h-1zM638 240h1v1h-1zM570 253h1v1h-1zM578 254h1v1h-1zM571 255h1v1h-1zM567 278h1v1h-1zM546 281h1v1h-1zM557 282h1v1h-1zM539 284h4v1h-4zM544 284h2v1h-2zM548 284h1v1h-1zM538 285h1v1h-1zM541 285h2v1h-2zM552 285h1v1h-1zM540 286h3v1h-3zM549 286h1v1h-1zM551 286h1v1h-1zM543 288h1v1h-1zM541 289h1v1h-1zM543 290h1v1h-1zM554 290h1v1h-1zM540 291h1v1h-1zM552 291h1v1h-1zM554 291h1v1h-1zM557 291h1v1h-1zM541 292h2v1h-2zM546 293h2v1h-2zM545 294h3v1h-3zM542 295h1v1h-1zM544 295h3v1h-3zM545 296h2v1h-2zM557 297h1v1h-1zM542 299h1v1h-1zM545 299h1v1h-1zM542 300h2v1h-2zM555 301h1v1h-1zM547 302h1v1h-1zM555 302h1v1h-1zM550 303h2v1h-2zM545 304h1v1h-1zM547 304h1v1h-1zM552 304h1v1h-1zM523 326h1v1h-1zM518 327h1v1h-1zM527 327h1v1h-1zM532 327h1v1h-1zM541 327h1v1h-1zM538 328h1v1h-1zM516 330h1v1h-1zM533 330h2v1h-2zM540 331h1v1h-1zM513 332h1v1h-1zM530 332h1v1h-1zM536 332h1v1h-1zM541 333h1v1h-1zM521 334h1v1h-1zM541 334h1v1h-1zM527 335h1v1h-1zM541 335h1v1h-1zM520 336h1v1h-1zM523 336h1v1h-1zM525 336h2v1h-2zM535 336h1v1h-1zM543 336h1v1h-1zM516 337h1v1h-1zM528 337h1v1h-1zM534 337h1v1h-1zM538 337h1v1h-1zM511 338h1v1h-1zM535 338h2v1h-2zM544 338h1v1h-1zM525 339h1v1h-1zM529 339h1v1h-1zM529 340h1v1h-1zM522 341h1v1h-1zM538 341h1v1h-1zM536 342h1v1h-1zM540 342h1v1h-1zM512 343h1v1h-1zM529 343h1v1h-1zM537 343h1v1h-1zM539 343h1v1h-1zM511 344h1v1h-1zM515 344h1v1h-1zM518 344h1v1h-1zM538 344h1v1h-1zM543 344h1v1h-1zM526 345h1v1h-1zM531 346h2v1h-2zM541 346h1v1h-1zM511 347h1v1h-1zM513 347h1v1h-1zM527 347h1v1h-1zM529 347h1v1h-1zM533 347h1v1h-1zM518 348h1v1h-1zM526 348h1v1h-1zM538 348h1v1h-1zM540 348h1v1h-1zM542 348h1v1h-1zM545 348h1v1h-1zM547 348h1v1h-1zM514 350h1v1h-1zM530 350h1v1h-1zM533 350h1v1h-1zM515 351h1v1h-1zM521 351h1v1h-1zM547 351h1v1h-1zM530 353h1v1h-1zM539 353h1v1h-1zM542 353h1v1h-1zM529 355h1v1h-1zM542 355h1v1h-1zM545 355h1v1h-1zM538 356h1v1h-1zM516 357h1v1h-1zM545 357h1v1h-1zM512 358h1v1h-1zM533 358h1v1h-1zM546 358h1v1h-1zM538 359h1v1h-1zM514 360h2v1h-2zM519 360h1v1h-1zM521 360h1v1h-1zM513 361h1v1h-1zM523 361h1v1h-1zM529 361h1v1h-1zM531 361h1v1h-1zM512 362h1v1h-1zM514 362h1v1h-1zM516 362h1v1h-1zM520 362h1v1h-1zM524 362h2v1h-2zM513 363h1v1h-1zM515 363h2v1h-2zM518 363h1v1h-1zM524 363h2v1h-2zM514 364h2v1h-2zM519 364h2v1h-2zM524 364h1v1h-1zM526 364h1v1h-1zM513 365h1v1h-1zM516 365h1v1h-1zM514 366h1v1h-1zM516 366h1v1h-1zM520 366h1v1h-1zM522 366h3v1h-3zM530 366h1v1h-1zM514 367h1v1h-1zM516 367h1v1h-1zM518 367h1v1h-1zM521 367h1v1h-1zM524 367h1v1h-1zM529 367h1v1h-1zM516 368h1v1h-1zM518 368h2v1h-2zM522 368h1v1h-1zM526 368h1v1h-1zM513 369h1v1h-1zM530 369h1v1h-1zM509 370h1v1h-1zM514 370h1v1h-1zM517 370h2v1h-2zM514 371h1v1h-1zM516 371h1v1h-1zM497 373h1v1h-1zM505 374h1v1h-1zM507 375h1v1h-1zM506 376h1v1h-1zM508 376h1v1h-1zM496 377h1v1h-1zM503 377h1v1h-1zM506 377h1v1h-1zM507 378h1v1h-1zM501 380h1v1h-1zM504 381h2v1h-2zM480 383h2v1h-2zM485 383h1v1h-1zM494 383h1v1h-1zM469 386h1v1h-1zM485 386h1v1h-1zM492 386h1v1h-1zM490 387h1v1h-1zM485 388h1v1h-1zM481 389h1v1h-1zM471 390h2v1h-2zM475 390h1v1h-1zM477 390h1v1h-1zM479 390h2v1h-2zM484 390h1v1h-1zM471 391h1v1h-1zM477 391h2v1h-2zM480 391h1v1h-1zM469 392h1v1h-1zM472 392h2v1h-2zM475 392h2v1h-2zM479 392h2v1h-2zM483 392h1v1h-1zM473 393h1v1h-1zM475 393h1v1h-1zM477 393h5v1h-5zM471 394h1v1h-1zM473 394h1v1h-1zM475 394h2v1h-2zM478 394h4v1h-4zM472 395h2v1h-2zM477 395h4v1h-4zM470 396h1v1h-1zM472 396h1v1h-1zM474 396h2v1h-2zM477 396h1v1h-1zM479 396h2v1h-2zM467 397h1v1h-1zM472 397h1v1h-1zM479 397h2v1h-2zM473 398h3v1h-3zM477 398h1v1h-1zM469 399h1v1h-1zM471 399h1v1h-1zM473 399h1v1h-1zM476 399h2v1h-2zM470 400h1v1h-1zM457 401h1v1h-1zM468 401h1v1h-1zM470 402h2v1h-2zM471 403h1v1h-1zM464 406h1v1h-1zM451 407h1v1h-1zM462 408h1v1h-1zM446 409h1v1h-1zM449 410h1v1h-1zM452 410h1v1h-1zM455 410h1v1h-1zM458 410h1v1h-1zM460 410h1v1h-1zM438 411h2v1h-2zM442 413h2v1h-2zM446 413h1v1h-1zM446 414h1v1h-1zM447 415h1v1h-1zM453 415h1v1h-1zM434 416h1v1h-1zM442 416h1v1h-1zM447 416h1v1h-1zM436 417h1v1h-1zM447 417h1v1h-1zM435 419h1v1h-1zM437 419h1v1h-1zM432 420h1v1h-1zM437 420h2v1h-2zM447 420h1v1h-1zM430 421h1v1h-1zM442 421h3v1h-3zM439 422h2v1h-2zM442 422h2v1h-2zM446 422h1v1h-1zM438 423h1v1h-1zM440 423h1v1h-1zM443 423h1v1h-1zM430 424h1v1h-1zM437 424h3v1h-3zM442 424h1v1h-1zM435 425h1v1h-1zM440 425h1v1h-1zM442 425h1v1h-1zM436 426h1v1h-1zM438 426h1v1h-1zM440 426h2v1h-2zM436 427h1v1h-1zM438 427h1v1h-1zM441 427h1v1h-1zM433 428h4v1h-4zM438 428h4v1h-4zM432 429h5v1h-5zM439 429h3v1h-3zM434 430h1v1h-1zM436 430h1v1h-1zM438 430h1v1h-1zM440 430h2v1h-2zM432 431h2v1h-2zM436 431h1v1h-1zM438 431h1v1h-1zM427 432h1v1h-1zM431 432h8v1h-8zM440 432h1v1h-1zM430 433h1v1h-1zM432 433h2v1h-2zM435 433h1v1h-1zM438 433h2v1h-2zM432 434h8v1h-8zM429 435h1v1h-1zM432 435h2v1h-2zM435 435h3v1h-3zM439 435h1v1h-1zM433 436h5v1h-5zM439 436h1v1h-1zM433 437h6v1h-6zM432 438h1v1h-1zM430 439h2v1h-2zM304 440h1v1h-1zM432 440h1v1h-1zM435 440h1v1h-1zM245 441h1v1h-1zM247 441h1v1h-1zM251 441h1v1h-1zM301 441h2v1h-2zM433 441h1v1h-1zM438 441h1v1h-1zM242 442h1v1h-1zM244 442h1v1h-1zM249 442h1v1h-1zM253 442h1v1h-1zM304 442h1v1h-1zM434 442h1v1h-1zM239 443h9v1h-9zM249 443h2v1h-2zM252 443h6v1h-6zM301 443h1v1h-1zM240 444h1v1h-1zM242 444h2v1h-2zM245 444h5v1h-5zM252 444h1v1h-1zM254 444h1v1h-1zM257 444h1v1h-1zM300 444h1v1h-1zM303 444h1v1h-1zM435 444h2v1h-2zM240 445h2v1h-2zM245 445h7v1h-7zM253 445h1v1h-1zM256 445h3v1h-3zM436 445h1v1h-1zM438 445h1v1h-1zM240 446h3v1h-3zM244 446h2v1h-2zM247 446h1v1h-1zM249 446h1v1h-1zM251 446h2v1h-2zM254 446h3v1h-3zM258 446h1v1h-1zM296 446h1v1h-1zM433 446h1v1h-1zM435 446h1v1h-1zM240 447h1v1h-1zM244 447h5v1h-5zM250 447h5v1h-5zM256 447h1v1h-1zM258 447h1v1h-1zM295 447h1v1h-1zM307 447h1v1h-1zM430 447h1v1h-1zM436 447h3v1h-3zM241 448h3v1h-3zM245 448h11v1h-11zM257 448h3v1h-3zM292 448h1v1h-1zM319 448h1v1h-1zM322 448h1v1h-1zM332 448h1v1h-1zM438 448h1v1h-1zM225 449h1v1h-1zM241 449h1v1h-1zM244 449h1v1h-1zM246 449h1v1h-1zM248 449h4v1h-4zM254 449h2v1h-2zM257 449h2v1h-2zM299 449h1v1h-1zM310 449h1v1h-1zM325 449h1v1h-1zM204 450h1v1h-1zM242 450h2v1h-2zM245 450h1v1h-1zM249 450h3v1h-3zM253 450h1v1h-1zM256 450h2v1h-2zM259 450h2v1h-2zM298 450h1v1h-1zM319 450h2v1h-2zM353 450h1v1h-1zM387 450h1v1h-1zM392 450h1v1h-1zM241 451h2v1h-2zM244 451h2v1h-2zM247 451h1v1h-1zM250 451h1v1h-1zM252 451h4v1h-4zM303 451h1v1h-1zM312 451h1v1h-1zM315 451h1v1h-1zM335 451h1v1h-1zM345 451h1v1h-1zM351 451h2v1h-2zM389 451h1v1h-1zM391 451h1v1h-1zM394 451h1v1h-1zM396 451h1v1h-1zM398 451h1v1h-1zM205 452h1v1h-1zM241 452h1v1h-1zM243 452h3v1h-3zM247 452h2v1h-2zM252 452h1v1h-1zM254 452h2v1h-2zM257 452h2v1h-2zM260 452h1v1h-1zM280 452h1v1h-1zM297 452h1v1h-1zM307 452h1v1h-1zM319 452h1v1h-1zM328 452h1v1h-1zM331 452h1v1h-1zM354 452h1v1h-1zM356 452h2v1h-2zM387 452h1v1h-1zM389 452h1v1h-1zM391 452h1v1h-1zM393 452h1v1h-1zM395 452h1v1h-1zM398 452h2v1h-2zM207 453h1v1h-1zM243 453h2v1h-2zM247 453h1v1h-1zM249 453h2v1h-2zM252 453h5v1h-5zM259 453h1v1h-1zM261 453h1v1h-1zM296 453h1v1h-1zM299 453h1v1h-1zM356 453h1v1h-1zM361 453h2v1h-2zM378 453h1v1h-1zM385 453h1v1h-1zM389 453h1v1h-1zM391 453h6v1h-6zM398 453h1v1h-1zM401 453h1v1h-1zM210 454h1v1h-1zM229 454h1v1h-1zM242 454h2v1h-2zM245 454h1v1h-1zM247 454h1v1h-1zM249 454h2v1h-2zM252 454h1v1h-1zM254 454h4v1h-4zM259 454h3v1h-3zM280 454h1v1h-1zM295 454h1v1h-1zM360 454h1v1h-1zM365 454h1v1h-1zM383 454h4v1h-4zM388 454h1v1h-1zM391 454h9v1h-9zM211 455h1v1h-1zM242 455h4v1h-4zM247 455h9v1h-9zM257 455h1v1h-1zM259 455h1v1h-1zM296 455h1v1h-1zM361 455h4v1h-4zM378 455h1v1h-1zM380 455h1v1h-1zM383 455h2v1h-2zM386 455h2v1h-2zM389 455h12v1h-12zM201 456h1v1h-1zM211 456h1v1h-1zM213 456h1v1h-1zM217 456h1v1h-1zM227 456h1v1h-1zM232 456h1v1h-1zM244 456h1v1h-1zM252 456h1v1h-1zM254 456h1v1h-1zM260 456h2v1h-2zM372 456h1v1h-1zM375 456h1v1h-1zM377 456h1v1h-1zM381 456h4v1h-4zM392 456h7v1h-7zM403 456h1v1h-1zM201 457h1v1h-1zM207 457h1v1h-1zM209 457h1v1h-1zM220 457h1v1h-1zM224 457h1v1h-1zM228 457h2v1h-2zM244 457h2v1h-2zM247 457h3v1h-3zM251 457h1v1h-1zM254 457h2v1h-2zM257 457h3v1h-3zM262 457h1v1h-1zM365 457h1v1h-1zM374 457h1v1h-1zM379 457h3v1h-3zM383 457h1v1h-1zM396 457h3v1h-3zM401 457h1v1h-1zM403 457h1v1h-1zM406 457h1v1h-1zM190 458h1v1h-1zM209 458h1v1h-1zM214 458h1v1h-1zM218 458h1v1h-1zM220 458h1v1h-1zM223 458h1v1h-1zM246 458h2v1h-2zM249 458h4v1h-4zM376 458h1v1h-1zM379 458h1v1h-1zM398 458h2v1h-2zM402 458h1v1h-1zM404 458h1v1h-1zM408 458h1v1h-1zM229 459h1v1h-1zM246 459h1v1h-1zM248 459h4v1h-4zM261 459h2v1h-2zM375 459h4v1h-4zM400 459h2v1h-2zM191 460h1v1h-1zM246 460h6v1h-6zM257 460h1v1h-1zM262 460h1v1h-1zM374 460h4v1h-4zM401 460h1v1h-1zM410 460h1v1h-1zM198 461h1v1h-1zM239 461h1v1h-1zM248 461h6v1h-6zM256 461h1v1h-1zM262 461h3v1h-3zM373 461h1v1h-1zM376 461h1v1h-1zM401 461h1v1h-1zM410 461h1v1h-1zM248 462h3v1h-3zM252 462h1v1h-1zM261 462h1v1h-1zM264 462h1v1h-1zM402 462h4v1h-4zM409 462h1v1h-1zM430 462h1v1h-1zM432 462h2v1h-2zM436 462h1v1h-1zM194 463h1v1h-1zM196 463h1v1h-1zM252 463h1v1h-1zM408 463h1v1h-1zM433 463h3v1h-3zM438 463h1v1h-1zM403 464h2v1h-2zM406 464h1v1h-1zM411 464h2v1h-2zM415 464h1v1h-1zM430 464h1v1h-1zM432 464h2v1h-2zM436 464h1v1h-1zM438 464h1v1h-1zM405 465h2v1h-2zM410 465h1v1h-1zM430 465h1v1h-1zM435 465h2v1h-2zM438 465h1v1h-1zM184 466h1v1h-1zM188 466h1v1h-1zM193 466h1v1h-1zM404 466h1v1h-1zM408 466h1v1h-1zM413 466h1v1h-1zM432 466h1v1h-1zM435 466h2v1h-2zM177 467h1v1h-1zM405 467h2v1h-2zM409 467h1v1h-1zM414 467h2v1h-2zM431 467h7v1h-7zM439 467h1v1h-1zM191 468h1v1h-1zM405 468h1v1h-1zM407 468h2v1h-2zM434 468h3v1h-3zM439 468h1v1h-1zM182 469h1v1h-1zM406 469h1v1h-1zM409 469h2v1h-2zM415 469h1v1h-1zM417 469h1v1h-1zM433 469h1v1h-1zM438 469h4v1h-4zM184 470h1v1h-1zM408 470h2v1h-2zM412 470h1v1h-1zM437 470h1v1h-1zM176 471h1v1h-1zM186 471h1v1h-1zM418 471h1v1h-1zM436 471h3v1h-3zM180 472h1v1h-1zM182 472h1v1h-1zM436 472h1v1h-1zM438 472h1v1h-1zM440 472h3v1h-3zM178 473h1v1h-1zM183 473h1v1h-1zM411 473h1v1h-1zM415 473h1v1h-1zM420 473h1v1h-1zM435 473h2v1h-2zM438 473h1v1h-1zM442 473h1v1h-1zM181 474h1v1h-1zM414 474h1v1h-1zM436 474h2v1h-2zM439 474h1v1h-1zM441 474h2v1h-2zM165 475h1v1h-1zM414 475h3v1h-3zM439 475h2v1h-2zM443 475h3v1h-3zM169 476h1v1h-1zM418 476h1v1h-1zM436 476h2v1h-2zM439 476h3v1h-3zM443 476h6v1h-6zM174 477h2v1h-2zM414 477h1v1h-1zM417 477h2v1h-2zM437 477h1v1h-1zM440 477h1v1h-1zM442 477h1v1h-1zM444 477h1v1h-1zM447 477h2v1h-2zM163 478h1v1h-1zM167 478h1v1h-1zM175 478h1v1h-1zM444 478h3v1h-3zM449 478h1v1h-1zM420 479h1v1h-1zM441 479h1v1h-1zM443 479h1v1h-1zM445 479h4v1h-4zM167 480h1v1h-1zM170 480h1v1h-1zM417 480h2v1h-2zM420 480h1v1h-1zM447 480h3v1h-3zM154 481h1v1h-1zM159 481h1v1h-1zM167 481h3v1h-3zM415 481h1v1h-1zM417 481h1v1h-1zM446 481h3v1h-3zM151 482h5v1h-5zM447 482h2v1h-2zM450 482h2v1h-2zM151 483h5v1h-5zM160 483h1v1h-1zM418 483h1v1h-1zM447 483h1v1h-1zM449 483h2v1h-2zM151 484h6v1h-6zM161 484h2v1h-2zM420 484h1v1h-1zM448 484h4v1h-4zM150 485h1v1h-1zM153 485h4v1h-4zM158 485h1v1h-1zM448 485h5v1h-5zM152 486h1v1h-1zM154 486h2v1h-2zM417 486h1v1h-1zM449 486h3v1h-3zM152 487h4v1h-4zM416 487h1v1h-1zM449 487h4v1h-4zM154 488h2v1h-2zM450 488h1v1h-1zM452 488h1v1h-1zM148 489h1v1h-1zM450 489h3v1h-3zM152 490h1v1h-1zM416 490h1v1h-1zM450 490h4v1h-4zM139 491h1v1h-1zM144 491h1v1h-1zM148 491h1v1h-1zM416 491h1v1h-1zM421 491h1v1h-1zM451 491h3v1h-3zM141 492h2v1h-2zM147 492h1v1h-1zM416 492h1v1h-1zM451 492h3v1h-3zM148 493h3v1h-3zM417 493h2v1h-2zM451 493h4v1h-4zM138 494h1v1h-1zM145 494h2v1h-2zM148 494h1v1h-1zM417 494h1v1h-1zM451 494h2v1h-2zM454 494h1v1h-1zM143 495h1v1h-1zM417 495h1v1h-1zM420 495h1v1h-1zM452 495h4v1h-4zM140 496h1v1h-1zM146 496h2v1h-2zM417 496h2v1h-2zM420 496h1v1h-1zM453 496h3v1h-3zM140 497h1v1h-1zM144 497h3v1h-3zM452 497h3v1h-3zM418 498h1v1h-1zM452 498h5v1h-5zM135 499h1v1h-1zM142 499h1v1h-1zM144 499h1v1h-1zM453 499h4v1h-4zM132 500h1v1h-1zM144 500h1v1h-1zM416 500h1v1h-1zM454 500h3v1h-3zM133 501h1v1h-1zM416 501h1v1h-1zM453 501h5v1h-5zM454 502h2v1h-2zM454 503h4v1h-4zM144 504h1v1h-1zM418 504h1v1h-1zM420 504h1v1h-1zM455 504h4v1h-4zM142 505h1v1h-1zM417 505h1v1h-1zM419 505h1v1h-1zM455 505h4v1h-4zM133 506h1v1h-1zM418 506h1v1h-1zM423 506h1v1h-1zM455 506h4v1h-4zM418 507h1v1h-1zM421 507h1v1h-1zM456 507h4v1h-4zM130 508h1v1h-1zM136 508h1v1h-1zM140 508h1v1h-1zM142 508h1v1h-1zM419 508h1v1h-1zM426 508h1v1h-1zM445 508h1v1h-1zM448 508h1v1h-1zM450 508h3v1h-3zM457 508h1v1h-1zM459 508h1v1h-1zM129 509h1v1h-1zM135 509h1v1h-1zM137 509h2v1h-2zM140 509h1v1h-1zM142 509h1v1h-1zM420 509h1v1h-1zM423 509h1v1h-1zM442 509h6v1h-6zM449 509h6v1h-6zM457 509h2v1h-2zM139 510h1v1h-1zM142 510h1v1h-1zM420 510h3v1h-3zM443 510h11v1h-11zM455 510h3v1h-3zM132 511h1v1h-1zM139 511h1v1h-1zM141 511h1v1h-1zM420 511h1v1h-1zM441 511h15v1h-15zM138 512h2v1h-2zM142 512h1v1h-1zM421 512h1v1h-1zM441 512h3v1h-3zM445 512h9v1h-9zM456 512h2v1h-2zM459 512h1v1h-1zM140 513h1v1h-1zM424 513h1v1h-1zM437 513h3v1h-3zM441 513h6v1h-6zM448 513h5v1h-5zM454 513h7v1h-7zM136 514h1v1h-1zM142 514h1v1h-1zM436 514h1v1h-1zM441 514h7v1h-7zM449 514h11v1h-11zM135 515h1v1h-1zM137 515h2v1h-2zM141 515h1v1h-1zM427 515h1v1h-1zM435 515h2v1h-2zM438 515h1v1h-1zM441 515h12v1h-12zM454 515h2v1h-2zM457 515h2v1h-2zM460 515h2v1h-2zM134 516h1v1h-1zM138 516h2v1h-2zM141 516h1v1h-1zM424 516h1v1h-1zM437 516h1v1h-1zM439 516h23v1h-23zM132 517h1v1h-1zM136 517h1v1h-1zM138 517h1v1h-1zM141 517h1v1h-1zM426 517h1v1h-1zM430 517h1v1h-1zM433 517h1v1h-1zM436 517h13v1h-13zM450 517h3v1h-3zM454 517h8v1h-8zM463 517h1v1h-1zM133 518h1v1h-1zM141 518h1v1h-1zM424 518h2v1h-2zM429 518h1v1h-1zM432 518h1v1h-1zM437 518h19v1h-19zM457 518h6v1h-6zM433 519h1v1h-1zM435 519h18v1h-18zM454 519h3v1h-3zM458 519h7v1h-7zM129 520h1v1h-1zM140 520h2v1h-2zM435 520h9v1h-9zM445 520h6v1h-6zM452 520h9v1h-9zM462 520h3v1h-3zM137 521h1v1h-1zM140 521h1v1h-1zM426 521h2v1h-2zM429 521h1v1h-1zM433 521h11v1h-11zM445 521h11v1h-11zM458 521h2v1h-2zM461 521h4v1h-4zM137 522h1v1h-1zM139 522h2v1h-2zM432 522h2v1h-2zM435 522h10v1h-10zM446 522h12v1h-12zM459 522h6v1h-6zM136 523h1v1h-1zM139 523h2v1h-2zM432 523h4v1h-4zM437 523h4v1h-4zM442 523h7v1h-7zM450 523h13v1h-13zM464 523h1v1h-1zM133 524h1v1h-1zM135 524h1v1h-1zM139 524h1v1h-1zM433 524h32v1h-32zM133 525h2v1h-2zM136 525h1v1h-1zM138 525h2v1h-2zM434 525h1v1h-1zM436 525h7v1h-7zM444 525h4v1h-4zM449 525h4v1h-4zM454 525h6v1h-6zM462 525h2v1h-2zM134 526h1v1h-1zM136 526h1v1h-1zM140 526h1v1h-1zM433 526h32v1h-32zM135 527h1v1h-1zM138 527h2v1h-2zM434 527h7v1h-7zM442 527h4v1h-4zM447 527h15v1h-15zM463 527h2v1h-2zM128 528h1v1h-1zM134 528h1v1h-1zM139 528h1v1h-1zM434 528h2v1h-2zM437 528h2v1h-2zM440 528h6v1h-6zM447 528h8v1h-8zM456 528h7v1h-7zM464 528h1v1h-1zM138 529h1v1h-1zM435 529h29v1h-29zM134 530h1v1h-1zM139 530h1v1h-1zM436 530h2v1h-2zM440 530h8v1h-8zM449 530h1v1h-1zM451 530h2v1h-2zM454 530h5v1h-5zM460 530h4v1h-4zM128 531h1v1h-1zM134 531h1v1h-1zM137 531h1v1h-1zM436 531h11v1h-11zM448 531h2v1h-2zM451 531h2v1h-2zM454 531h2v1h-2zM457 531h5v1h-5zM463 531h1v1h-1zM132 532h2v1h-2zM137 532h1v1h-1zM437 532h8v1h-8zM446 532h5v1h-5zM452 532h7v1h-7zM460 532h4v1h-4zM135 533h1v1h-1zM137 533h1v1h-1zM140 533h1v1h-1zM438 533h4v1h-4zM444 533h1v1h-1zM446 533h8v1h-8zM455 533h2v1h-2zM458 533h6v1h-6zM131 534h1v1h-1zM134 534h1v1h-1zM136 534h1v1h-1zM138 534h3v1h-3zM443 534h4v1h-4zM448 534h5v1h-5zM454 534h4v1h-4zM459 534h4v1h-4zM135 535h1v1h-1zM445 535h4v1h-4zM455 535h3v1h-3zM459 535h1v1h-1zM461 535h2v1h-2zM132 536h1v1h-1zM137 536h3v1h-3zM457 536h6v1h-6zM132 537h1v1h-1zM136 537h2v1h-2zM139 537h1v1h-1zM131 538h1v1h-1zM134 538h1v1h-1zM136 538h1v1h-1zM139 538h1v1h-1zM134 539h1v1h-1zM137 539h1v1h-1zM139 539h1v1h-1zM132 540h1v1h-1zM134 540h1v1h-1zM136 540h1v1h-1zM139 540h1v1h-1zM136 541h1v1h-1zM131 542h1v1h-1zM136 542h1v1h-1zM135 543h1v1h-1zM129 544h1v1h-1zM136 544h1v1h-1zM138 544h1v1h-1zM131 545h1v1h-1zM133 545h1v1h-1zM138 545h1v1h-1zM130 546h1v1h-1zM134 546h1v1h-1zM137 546h1v1h-1zM132 547h1v1h-1zM136 547h2v1h-2zM130 548h1v1h-1zM132 549h3v1h-3zM134 550h2v1h-2zM137 550h1v1h-1zM130 551h1v1h-1zM132 551h1v1h-1zM135 551h1v1h-1zM132 552h1v1h-1zM136 552h1v1h-1zM135 553h2v1h-2zM136 554h1v1h-1zM132 555h1v1h-1zM131 556h1v1h-1z"/>
<path fill="#ffffff" d="M754 161h1v1h-1zM657 163h1v1h-1zM672 163h1v1h-1zM693 163h1v1h-1zM658 164h3v1h-3zM674 164h1v1h-1zM694 164h8v1h-8zM659 165h2v1h-2zM673 165h3v1h-3zM694 165h7v1h-7zM750 165h1v1h-1zM660 166h2v1h-2zM701 166h1v1h-1zM660 167h1v1h-1zM744 167h1v1h-1zM660 168h1v1h-1zM734 170h1v1h-1zM730 171h1v1h-1zM733 171h1v1h-1zM727 172h2v1h-2zM721 173h1v1h-1zM715 174h1v1h-1zM709 176h1v1h-1zM638 177h1v1h-1zM635 178h4v1h-4zM635 179h2v1h-2zM638 179h1v1h-1zM704 179h1v1h-1zM636 180h2v1h-2zM639 180h1v1h-1zM636 181h1v1h-1zM702 182h1v1h-1zM691 183h1v1h-1zM699 183h1v1h-1zM776 183h1v1h-1zM779 183h1v1h-1zM682 184h1v1h-1zM696 184h1v1h-1zM769 184h1v1h-1zM766 185h1v1h-1zM684 186h1v1h-1zM674 187h1v1h-1zM676 187h1v1h-1zM687 187h1v1h-1zM672 188h1v1h-1zM676 188h1v1h-1zM680 188h1v1h-1zM683 188h1v1h-1zM761 188h1v1h-1zM671 189h1v1h-1zM680 189h2v1h-2zM759 189h1v1h-1zM743 190h1v1h-1zM669 191h1v1h-1zM743 191h5v1h-5zM755 191h1v1h-1zM744 192h2v1h-2zM669 193h1v1h-1zM751 193h1v1h-1zM664 195h1v1h-1zM750 195h1v1h-1zM660 196h1v1h-1zM730 196h1v1h-1zM748 196h2v1h-2zM644 197h1v1h-1zM731 197h1v1h-1zM641 198h2v1h-2zM644 198h1v1h-1zM727 198h1v1h-1zM642 199h4v1h-4zM732 199h1v1h-1zM746 199h1v1h-1zM728 200h1v1h-1zM730 200h1v1h-1zM626 201h1v1h-1zM741 201h1v1h-1zM626 202h3v1h-3zM742 202h1v1h-1zM627 203h2v1h-2zM737 203h1v1h-1zM627 204h4v1h-4zM734 204h1v1h-1zM738 204h1v1h-1zM628 205h3v1h-3zM735 205h1v1h-1zM628 206h1v1h-1zM638 213h1v1h-1zM639 214h1v1h-1zM636 217h1v1h-1zM637 218h1v1h-1zM640 236h1v1h-1zM651 236h1v1h-1zM645 237h1v1h-1zM642 239h1v1h-1zM646 239h1v1h-1zM644 240h1v1h-1zM646 240h1v1h-1zM651 240h1v1h-1zM636 241h1v1h-1zM640 241h1v1h-1zM636 242h1v1h-1zM625 243h1v1h-1zM628 243h1v1h-1zM632 243h3v1h-3zM625 244h1v1h-1zM623 245h1v1h-1zM543 296h1v1h-1zM539 298h1v1h-1zM543 298h1v1h-1zM544 299h1v1h-1zM538 300h1v1h-1zM538 303h1v1h-1zM540 308h1v1h-1zM471 321h1v1h-1zM470 322h3v1h-3zM471 323h3v1h-3zM472 324h2v1h-2zM472 325h3v1h-3zM473 326h3v1h-3zM474 327h1v1h-1zM489 331h3v1h-3zM491 332h2v1h-2zM492 333h3v1h-3zM493 334h3v1h-3zM500 334h1v1h-1zM494 335h3v1h-3zM500 335h5v1h-5zM507 335h3v1h-3zM496 336h3v1h-3zM500 336h2v1h-2zM504 336h3v1h-3zM508 336h1v1h-1zM538 343h1v1h-1zM543 345h1v1h-1zM538 346h1v1h-1zM528 347h1v1h-1zM546 347h1v1h-1zM531 349h1v1h-1zM528 351h1v1h-1zM537 351h1v1h-1zM549 354h1v1h-1zM530 355h1v1h-1zM549 355h1v1h-1zM528 358h1v1h-1zM531 359h1v1h-1zM530 362h1v1h-1zM436 380h1v1h-1zM436 381h4v1h-4zM441 381h2v1h-2zM436 382h5v1h-5zM442 382h2v1h-2zM443 383h1v1h-1zM455 390h1v1h-1zM467 390h1v1h-1zM455 391h2v1h-2zM458 391h1v1h-1zM455 392h4v1h-4zM460 392h1v1h-1zM458 393h5v1h-5zM460 394h4v1h-4zM463 395h4v1h-4zM463 396h4v1h-4zM473 396h1v1h-1zM463 397h4v1h-4zM458 409h1v1h-1zM436 439h1v1h-1zM438 440h1v1h-1zM373 441h6v1h-6zM373 442h1v1h-1zM375 442h4v1h-4zM373 443h6v1h-6zM325 444h1v1h-1zM373 444h6v1h-6zM373 445h1v1h-1zM333 450h1v1h-1zM294 451h1v1h-1zM311 452h1v1h-1zM325 452h1v1h-1zM294 453h1v1h-1zM297 453h1v1h-1zM214 455h1v1h-1zM238 455h1v1h-1zM284 455h1v1h-1zM283 456h1v1h-1zM291 456h1v1h-1zM215 457h1v1h-1zM277 457h1v1h-1zM292 457h2v1h-2zM438 457h1v1h-1zM227 458h1v1h-1zM211 459h1v1h-1zM225 459h1v1h-1zM233 459h1v1h-1zM270 459h1v1h-1zM289 459h1v1h-1zM203 460h1v1h-1zM211 460h1v1h-1zM215 460h1v1h-1zM224 460h1v1h-1zM241 460h1v1h-1zM273 460h1v1h-1zM200 461h1v1h-1zM220 461h1v1h-1zM223 461h1v1h-1zM237 461h1v1h-1zM270 461h1v1h-1zM287 461h1v1h-1zM209 462h1v1h-1zM217 462h1v1h-1zM223 462h1v1h-1zM228 462h1v1h-1zM275 462h1v1h-1zM200 463h1v1h-1zM222 463h1v1h-1zM226 463h1v1h-1zM234 463h1v1h-1zM239 463h1v1h-1zM265 463h1v1h-1zM270 463h1v1h-1zM277 463h1v1h-1zM281 463h1v1h-1zM440 463h1v1h-1zM201 464h1v1h-1zM264 464h1v1h-1zM270 464h1v1h-1zM286 464h1v1h-1zM263 465h1v1h-1zM272 465h1v1h-1zM281 465h1v1h-1zM439 465h1v1h-1zM270 466h1v1h-1zM279 466h1v1h-1zM265 467h2v1h-2zM271 467h1v1h-1zM279 467h1v1h-1zM283 467h1v1h-1zM266 468h1v1h-1zM273 468h1v1h-1zM275 468h1v1h-1zM285 468h1v1h-1zM275 469h1v1h-1zM280 469h1v1h-1zM291 469h1v1h-1zM266 470h1v1h-1zM263 471h1v1h-1zM267 471h2v1h-2zM291 471h1v1h-1zM442 471h1v1h-1zM267 472h1v1h-1zM292 472h1v1h-1zM290 473h1v1h-1zM291 474h2v1h-2zM447 478h1v1h-1zM431 481h1v1h-1zM433 481h1v1h-1zM435 481h3v1h-3zM432 482h3v1h-3zM436 482h2v1h-2zM432 483h1v1h-1zM435 483h1v1h-1zM431 484h2v1h-2zM434 484h1v1h-1zM436 484h1v1h-1zM437 485h1v1h-1zM158 486h1v1h-1zM152 488h1v1h-1zM453 488h1v1h-1zM149 490h1v1h-1zM420 490h1v1h-1zM439 490h1v1h-1zM443 491h1v1h-1zM440 492h2v1h-2zM443 492h1v1h-1zM416 493h1v1h-1zM419 493h1v1h-1zM439 493h1v1h-1zM442 493h1v1h-1zM440 494h1v1h-1zM440 495h1v1h-1zM442 495h1v1h-1zM416 496h1v1h-1zM441 496h1v1h-1zM443 496h2v1h-2zM415 497h1v1h-1zM440 497h1v1h-1zM444 497h1v1h-1zM140 498h1v1h-1zM417 498h1v1h-1zM420 498h1v1h-1zM442 498h3v1h-3zM440 499h1v1h-1zM443 499h2v1h-2zM415 500h1v1h-1zM417 500h1v1h-1zM419 500h1v1h-1zM440 500h1v1h-1zM442 500h1v1h-1zM444 500h1v1h-1zM418 502h1v1h-1zM420 503h1v1h-1zM420 505h1v1h-1zM442 505h2v1h-2zM441 506h3v1h-3zM441 507h3v1h-3zM441 508h3v1h-3zM132 510h1v1h-1zM138 510h1v1h-1zM422 512h1v1h-1zM431 512h1v1h-1zM141 513h1v1h-1zM424 514h1v1h-1zM140 516h1v1h-1zM423 517h1v1h-1zM131 518h1v1h-1zM137 519h1v1h-1zM426 519h2v1h-2zM135 522h2v1h-2zM430 523h1v1h-1zM135 534h1v1h-1zM443 536h2v1h-2zM441 537h1v1h-1zM443 537h1v1h-1zM445 537h1v1h-1zM444 539h1v1h-1zM445 540h1v1h-1zM132 541h1v1h-1zM139 541h1v1h-1zM139 542h1v1h-1zM448 542h1v1h-1zM132 543h1v1h-1zM136 543h1v1h-1zM138 543h1v1h-1zM447 544h1v1h-1zM134 545h1v1h-1zM450 545h1v1h-1zM137 548h1v1h-1zM136 550h1v1h-1z"/>
<path fill="#ffffff" d="M153.5,675.5 156.0,674.5 159.5,679.5 157.5,681.5 154.5,679.0Z"/>
<path fill="#ffffff" d="M207.5,699.0 211.8,697.5 217.0,700.5 215.5,702.0 210.5,700.5Z"/>
<path fill="#ffffff" d="M224.2,715.0 228.0,714.0 233.0,718.0 239.2,722.0 238.0,723.5 231.8,720.5 227.5,720.0 225.0,718.0Z"/>
<path fill="#ffffff" d="M275.5,701.0 284.2,700.5 284.5,702.5 276.0,703.0Z"/>
<path fill="#ffffff" d="M254.2,744.5 258.0,743.5 258.5,746.0 255.0,747.0Z"/>
<path fill="#ffffff" d="M287.0,758.0 289.5,757.5 290.0,760.0 287.5,760.5Z"/>
<path fill="#ffffff" d="M300.0,757.5 302.5,757.0 303.0,759.5 300.5,760.0Z"/>
<path fill="#ffffff" d="M296.0,763.5 298.5,763.0 298.8,765.5 296.5,766.0Z"/>
<path fill="#ffffff" d="M174.5,710.0 177.0,709.0 178.0,713.0 175.5,713.5Z"/>
<path fill="#ffffff" d="M189.5,685.5 192.0,684.5 193.0,688.0 190.5,689.0Z"/>
<path fill="#ffffff" d="M315.0,740.5 317.0,740.0 317.5,743.5 315.5,744.0Z"/>
<path fill="#ffffff" d="M353.0,772.0 356.0,771.0 356.5,774.0 353.5,774.5Z"/>
<path fill="#ffffff" d="M260.5,688.0 263.0,687.5 263.2,690.5 261.0,691.0Z"/>
<path fill="#ffffff" d="M310.5,326.1 313.5,336.1 316.5,347.1 317.5,346.9 314.5,335.9 311.5,325.9Z"/>
<path fill="#ffffff" d="M313.6,326.1 316.6,335.1 318.6,345.1 319.4,344.9 317.4,334.9 314.4,325.9Z"/>
<path fill="#ffffff" d="M364.2,336.8 371.2,335.3 370.8,333.7 363.8,335.2Z"/>
<path fill="#ffffff" d="M321.9,368.0 328.8,369.5 335.8,372.9 336.2,372.1 329.2,368.5 322.1,367.0Z"/>
<path fill="#ffffff" d="M389.3,379.7 396.3,376.7 395.7,375.3 388.7,378.3Z"/>
<path fill="#ffffff" d="M405.8,373.2 410.7,374.7 414.7,376.6 415.3,375.4 411.3,373.3 406.2,371.8Z"/>
<path fill="#ffffff" d="M415.5,382.5 419.6,386.5 424.6,390.1 425.4,388.9 420.4,385.5 416.5,381.5Z"/>
<path fill="#ffffff" d="M436.9,381.7 444.4,383.2 444.6,381.8 437.1,380.3Z"/>
<path fill="#ffffff" d="M469.6,323.1 475.6,327.6 476.4,326.4 470.4,321.9Z"/>
<path fill="#ffffff" d="M489.6,332.7 495.7,336.7 500.0,336.8 500.0,335.2 496.3,335.3 490.4,331.3Z"/>
<path fill="#ffffff" d="M500.8,335.7 509.8,337.7 510.2,336.3 501.2,334.3Z"/>
<path fill="#ffffff" d="M455.7,392.6 460.7,394.6 465.6,397.6 466.4,396.4 461.3,393.4 456.3,391.4Z"/>
<path fill="#ffffff" d="M347.1,391.1 348.1,395.1 348.9,394.9 347.9,390.9Z"/>
<path fill="#ffffff" d="M343.6,401.1 345.1,406.1 345.9,405.9 344.4,400.9Z"/>
<path fill="#ffffff" d="M231.9,185.4 235.8,186.4 239.7,189.4 240.3,188.6 236.2,185.6 232.1,184.6Z"/>
<path fill="#ffffff" d="M254.1,197.6 255.6,205.1 257.6,212.6 258.4,212.4 256.4,204.9 254.9,197.4Z"/>
<path fill="#ffffff" d="M277.8,192.7 279.3,199.2 280.7,198.8 279.2,192.3Z"/>
<path fill="#ffffff" d="M295.1,200.4 302.1,198.4 301.9,197.6 294.9,199.6Z"/>
<path fill="#ffffff" d="M149.7,383.7 156.7,386.7 157.3,385.3 150.3,382.3Z"/>
<path fill="#ffffff" d="M212.1,372.5 220.1,371.5 219.9,370.5 211.9,371.5Z"/>
<path fill="#ffffff" d="M201.9,420.3 205.4,428.3 210.5,435.4 211.5,434.6 206.6,427.7 203.1,419.7Z"/>
<path fill="#ffffff" d="M207.6,428.6 211.6,431.6 212.4,430.4 208.4,427.4Z"/>
<path fill="#ffffff" d="M377.5,188.3 378.5,190.3 379.5,189.7 378.5,187.7Z"/>
<path fill="#ffffff" d="M517.1,217.1 519.1,224.1 519.9,223.9 517.9,216.9Z"/>
<path fill="#ffffff" d="M521.1,217.1 522.6,225.6 523.4,225.4 521.9,216.9Z"/>
<path fill="#ffffff" d="M525.6,217.0 526.1,224.0 526.9,224.0 526.4,217.0Z"/>
<path fill="#ffffff" d="M529.6,216.7 531.6,222.2 532.4,221.8 530.4,216.3Z"/>
<path fill="#ffffff" d="M533.1,216.3 535.6,219.8 536.4,219.2 533.9,215.7Z"/>
<path fill="#ffffff" d="M538.9,210.6 545.9,212.1 546.1,210.9 539.1,209.4Z"/>
<path fill="#ffffff" d="M525.7,164.4 531.8,168.0 544.0,171.0 556.1,169.5 570.1,166.5 582.1,163.5 581.9,162.5 569.9,165.5 555.9,168.5 544.0,170.0 532.2,167.0 526.3,163.6Z"/>
<path fill="#ffffff" d="M483.4,172.6 486.4,175.6 487.6,174.4 484.6,171.4Z"/>
<path fill="#ffffff" d="M474.4,177.6 477.4,180.6 478.6,179.4 475.6,176.4Z"/>
<path fill="#ffffff" d="M490.0,186.1 495.9,186.6 501.9,187.6 502.1,186.4 496.1,185.4 490.0,184.9Z"/>
<path fill="#ffffff" d="M591.2,177.5 594.5,175.5 595.5,178.0 593.8,183.8 592.0,190.0 590.0,197.5 585.0,206.2 584.5,205.0 588.8,197.0 590.0,188.8 589.5,182.5Z"/>
<path fill="#ffffff" d="M610.8,173.1 611.5,178.8 612.5,178.7 611.7,172.9Z"/>
<path fill="#ffffff" d="M637.0,178.0 639.5,177.5 639.0,182.0 636.5,181.5Z"/>
<path fill="#ffffff" d="M626.2,201.2 628.8,202.0 631.2,205.0 629.5,206.2 626.5,203.8Z"/>
<path fill="#ffffff" d="M609.2,224.5 611.8,224.0 611.2,228.0 609.2,228.0Z"/>
<path fill="#ffffff" d="M541.1,210.6 546.1,211.9 546.4,210.6 541.4,209.4Z"/>
<path fill="#ffffff" d="M501.1,335.8 509.8,337.8 510.2,336.2 501.4,334.2Z"/>
<path fill="#ffffff" d="M658.3,163.4 662.0,167.9 663.0,167.1 659.2,162.6Z"/>
<path fill="#ffffff" d="M532.6,182.9 537.2,180.7 534.6,186.9 535.4,187.1 537.8,180.3 532.4,182.1Z"/>
<path fill="#ffffff" d="M136.4,187.8 134.2,187.8 134.2,188.5 136.4,188.5Z"/>
<path fill="#ffffff" d="M133.9,183.2 131.8,182.8 131.7,183.5 133.7,183.9Z"/>
<path fill="#ffffff" d="M192.7,169.7 193.3,171.9 194.0,171.7 193.4,169.5Z"/>
<path fill="#ffffff" d="M134.7,202.4 133.0,200.5 132.5,201.0 134.2,202.9Z"/>
<path fill="#ffffff" d="M153.8,200.9 154.2,201.6 154.8,201.2 154.4,200.5Z"/>
<path fill="#ffffff" d="M159.1,188.4 156.9,186.9 156.5,187.5 158.7,188.9Z"/>
<path fill="#ffffff" d="M182.2,183.5 182.6,183.3 182.3,182.7 181.9,182.9Z"/>
<path fill="#ffffff" d="M149.1,190.1 151.0,191.3 151.4,190.7 149.5,189.6Z"/>
<path fill="#ffffff" d="M152.3,208.0 151.9,209.3 152.5,209.5 152.9,208.2Z"/>
<path fill="#ffffff" d="M142.1,186.2 142.9,187.5 143.5,187.1 142.7,185.8Z"/>
<path fill="#ffffff" d="M173.8,203.7 174.8,204.2 175.1,203.6 174.1,203.1Z"/>
<path fill="#ffffff" d="M205.2,200.8 204.6,201.6 205.2,202.0 205.8,201.2Z"/>
<path fill="#ffffff" d="M133.0,184.5 131.0,182.3 130.5,182.8 132.4,185.0Z"/>
<path fill="#ffffff" d="M188.3,169.7 187.7,171.6 188.4,171.8 189.0,169.9Z"/>
<path fill="#ffffff" d="M136.8,184.5 138.7,186.1 139.2,185.5 137.3,183.9Z"/>
<path fill="#ffffff" d="M195.5,176.4 194.8,178.3 195.4,178.6 196.1,176.6Z"/>
<path fill="#ffffff" d="M203.1,170.5 201.7,169.2 201.2,169.7 202.6,171.0Z"/>
<path fill="#ffffff" d="M167.4,190.2 164.9,189.8 164.8,190.5 167.3,190.9Z"/>
<path fill="#ffffff" d="M160.8,182.1 161.4,179.9 160.8,179.7 160.1,181.9Z"/>
<path fill="#ffffff" d="M136.4,173.3 135.6,171.0 134.9,171.3 135.7,173.5Z"/>
<path fill="#ffffff" d="M131.4,170.7 130.7,168.3 130.0,168.5 130.7,170.9Z"/>
<path fill="#ffffff" d="M196.8,191.3 195.5,190.6 195.2,191.2 196.4,191.9Z"/>
<path fill="#ffffff" d="M205.7,184.7 203.7,182.7 203.2,183.2 205.2,185.2Z"/>
<path fill="#ffffff" d="M170.6,170.2 168.2,170.4 168.3,171.1 170.6,170.9Z"/>
<path fill="#ffffff" d="M150.5,180.8 151.9,181.0 152.0,180.3 150.6,180.2Z"/>
<path fill="#ffffff" d="M189.1,179.0 190.7,181.4 191.3,181.1 189.7,178.6Z"/>
<path fill="#ffffff" d="M308.5,220.7 309.8,221.7 310.2,221.1 308.9,220.1Z"/>
<path fill="#ffffff" d="M252.7,200.1 252.2,198.2 251.5,198.5 252.1,200.3Z"/>
<path fill="#ffffff" d="M234.3,183.3 233.3,184.1 233.8,184.6 234.7,183.8Z"/>
<path fill="#ffffff" d="M317.8,195.5 319.6,197.5 320.1,197.0 318.3,195.1Z"/>
<path fill="#ffffff" d="M318.2,189.3 317.1,188.2 316.6,188.7 317.7,189.8Z"/>
<path fill="#ffffff" d="M249.4,178.4 249.9,180.0 250.5,179.8 250.0,178.2Z"/>
<path fill="#ffffff" d="M307.3,197.7 307.9,198.9 308.6,198.6 308.0,197.4Z"/>
<path fill="#ffffff" d="M239.4,210.5 241.1,211.7 241.5,211.1 239.8,210.0Z"/>
<path fill="#ffffff" d="M299.3,197.2 298.0,198.4 298.5,198.9 299.7,197.7Z"/>
<path fill="#ffffff" d="M262.0,220.4 263.9,220.0 263.7,219.3 261.9,219.7Z"/>
<path fill="#ffffff" d="M268.4,230.5 269.3,229.2 268.7,228.8 267.8,230.1Z"/>
<path fill="#ffffff" d="M243.2,174.9 244.8,176.1 245.3,175.5 243.6,174.3Z"/>
<path fill="#ffffff" d="M245.0,222.2 247.0,222.8 247.2,222.2 245.3,221.5Z"/>
<path fill="#ffffff" d="M263.8,202.2 262.3,200.3 261.8,200.7 263.3,202.6Z"/>
<path fill="#ffffff" d="M319.0,209.5 319.1,211.2 319.8,211.2 319.7,209.5Z"/>
<path fill="#ffffff" d="M271.3,225.3 272.6,224.1 272.1,223.6 270.8,224.8Z"/>
<path fill="#ffffff" d="M254.6,184.2 253.5,184.5 253.7,185.2 254.8,184.8Z"/>
<path fill="#ffffff" d="M255.1,193.1 253.6,194.7 254.1,195.2 255.6,193.6Z"/>
<path fill="#ffffff" d="M263.5,196.1 263.8,197.8 264.5,197.6 264.2,196.0Z"/>
<path fill="#ffffff" d="M269.5,228.3 269.5,228.4 270.2,228.3 270.2,228.2Z"/>
<path fill="#ffffff" d="M279.5,165.2 279.2,164.0 278.5,164.1 278.8,165.4Z"/>
<path fill="#ffffff" d="M232.4,219.6 231.1,219.5 231.0,220.2 232.3,220.3Z"/>
<path fill="#ffffff" d="M297.2,202.6 296.5,202.7 296.6,203.4 297.3,203.3Z"/>
<path fill="#ffffff" d="M281.9,218.6 280.4,218.8 280.5,219.5 282.0,219.2Z"/>
<path fill="#ffffff" d="M254.4,183.7 255.4,183.8 255.5,183.1 254.4,183.0Z"/>
<path fill="#ffffff" d="M333.2,615.0 338.9,611.7 341.1,617.1 341.1,623.5 338.8,627.7 336.5,624.4 336.0,619.1Z"/>
<path fill="#ffffff" d="M309.1,676.2 312.2,671.1 315.4,667.3 316.4,671.1 316.0,674.9 318.6,676.2 317.3,679.4 314.8,676.8 311.0,677.5Z"/>
</g>
<rect x="129.25" y="162.25" width="711.25" height="697.25" fill="none" stroke="#333" stroke-width="1.3"/>
<g stroke="#222" stroke-width="1.3" fill="none">
<line x1="112.5" y1="177.50" x2="129.25" y2="177.50"/>
<line x1="112.5" y1="271.00" x2="129.25" y2="271.00"/>
<line x1="112.5" y1="364.50" x2="129.25" y2="364.50"/>
<line x1="112.5" y1="458.00" x2="129.25" y2="458.00"/>
<line x1="112.5" y1="551.50" x2="129.25" y2="551.50"/>
<line x1="112.5" y1="645.00" x2="129.25" y2="645.00"/>
<line x1="112.5" y1="738.50" x2="129.25" y2="738.50"/>
<line x1="112.5" y1="832.00" x2="129.25" y2="832.00"/>
<line x1="185.50" y1="859.5" x2="185.50" y2="876.5"/>
<line x1="279.05" y1="859.5" x2="279.05" y2="876.5"/>
<line x1="372.60" y1="859.5" x2="372.60" y2="876.5"/>
<line x1="466.15" y1="859.5" x2="466.15" y2="876.5"/>
<line x1="559.70" y1="859.5" x2="559.70" y2="876.5"/>
<line x1="653.25" y1="859.5" x2="653.25" y2="876.5"/>
<line x1="746.80" y1="859.5" x2="746.80" y2="876.5"/>
</g>
<g id="txt">
<text class="ax" transform="translate(97.2,185.80) scale(1,1.05)" text-anchor="end">45°N</text>
<text class="ax" transform="translate(97.2,279.30) scale(1,1.05)" text-anchor="end">40°N</text>
<text class="ax" transform="translate(97.2,372.80) scale(1,1.05)" text-anchor="end">35°N</text>
<text class="ax" transform="translate(97.2,466.30) scale(1,1.05)" text-anchor="end">30°N</text>
<text class="ax" transform="translate(97.2,559.80) scale(1,1.05)" text-anchor="end">25°N</text>
<text class="ax" transform="translate(97.2,653.30) scale(1,1.05)" text-anchor="end">20°N</text>
<text class="ax" transform="translate(97.2,746.80) scale(1,1.05)" text-anchor="end">15°N</text>
<text class="ax" transform="translate(97.2,840.30) scale(1,1.05)" text-anchor="end">10°N</text>
<text class="ax" transform="translate(185.50,910.2) scale(1,1.05)" text-anchor="middle">95°W</text>
<text class="ax" transform="translate(279.05,910.2) scale(1,1.05)" text-anchor="middle">90°W</text>
<text class="ax" transform="translate(372.60,910.2) scale(1,1.05)" text-anchor="middle">85°W</text>
<text class="ax" transform="translate(466.15,910.2) scale(1,1.05)" text-anchor="middle">80°W</text>
<text class="ax" transform="translate(559.70,910.2) scale(1,1.05)" text-anchor="middle">75°W</text>
<text class="ax" transform="translate(653.25,910.2) scale(1,1.05)" text-anchor="middle">70°W</text>
<text class="ax" transform="translate(746.80,910.2) scale(1,1.05)" text-anchor="middle">65°W</text>
<text class="ax" transform="translate(484.2,945.2) scale(1,1.05)" text-anchor="middle">Longitude</text>
<text class="ax" transform="translate(41.4,511.5) rotate(-90) scale(1,1.05)" text-anchor="middle">Latitude</text>
<text class="tt" transform="translate(163.4,134) scale(1,1.04)">2021080405</text>
<text class="tt" transform="translate(656.2,128.4) scale(1,1.04)">Elevation (m)</text>
</g>
<rect x="878.75" y="822.14" width="42.25" height="31.59" fill="#0000ba" shape-rendering="crispEdges"/>
<rect x="878.75" y="791.05" width="42.25" height="31.59" fill="#0000e8" shape-rendering="crispEdges"/>
<rect x="878.75" y="759.96" width="42.25" height="31.59" fill="#0017ff" shape-rendering="crispEdges"/>
<rect x="878.75" y="728.87" width="42.25" height="31.59" fill="#0046ff" shape-rendering="crispEdges"/>
<rect x="878.75" y="697.78" width="42.25" height="31.59" fill="#0074ff" shape-rendering="crispEdges"/>
<rect x="878.75" y="666.69" width="42.25" height="31.59" fill="#00a2ff" shape-rendering="crispEdges"/>
<rect x="878.75" y="635.60" width="42.25" height="31.59" fill="#00d1ff" shape-rendering="crispEdges"/>
<rect x="878.75" y="604.51" width="42.25" height="31.59" fill="#00ffff" shape-rendering="crispEdges"/>
<rect x="878.75" y="573.42" width="42.25" height="31.59" fill="#2affd4" shape-rendering="crispEdges"/>
<rect x="878.75" y="542.33" width="42.25" height="31.59" fill="#55ffaa" shape-rendering="crispEdges"/>
<rect x="878.75" y="511.24" width="42.25" height="31.59" fill="#80ff80" shape-rendering="crispEdges"/>
<rect x="878.75" y="480.15" width="42.25" height="31.59" fill="#aaff55" shape-rendering="crispEdges"/>
<rect x="878.75" y="449.06" width="42.25" height="31.59" fill="#d4ff2a" shape-rendering="crispEdges"/>
<rect x="878.75" y="417.97" width="42.25" height="31.59" fill="#ffff00" shape-rendering="crispEdges"/>
<rect x="878.75" y="386.88" width="42.25" height="31.59" fill="#ffd100" shape-rendering="crispEdges"/>
<rect x="878.75" y="355.79" width="42.25" height="31.59" fill="#ffa200" shape-rendering="crispEdges"/>
<rect x="878.75" y="324.70" width="42.25" height="31.59" fill="#ff7400" shape-rendering="crispEdges"/>
<rect x="878.75" y="293.61" width="42.25" height="31.59" fill="#ff4600" shape-rendering="crispEdges"/>
<rect x="878.75" y="262.52" width="42.25" height="31.59" fill="#ff1700" shape-rendering="crispEdges"/>
<rect x="878.75" y="231.43" width="42.25" height="31.59" fill="#e80000" shape-rendering="crispEdges"/>
<rect x="878.75" y="200.34" width="42.25" height="31.59" fill="#ba0000" shape-rendering="crispEdges"/>
<rect x="878.75" y="169.25" width="42.25" height="31.59" fill="#8b0000" shape-rendering="crispEdges"/>
<line x1="878.75" y1="200.34" x2="921" y2="200.34" stroke="#111" stroke-width="1"/>
<line x1="878.75" y1="231.43" x2="921" y2="231.43" stroke="#111" stroke-width="1"/>
<line x1="878.75" y1="262.52" x2="921" y2="262.52" stroke="#111" stroke-width="1"/>
<line x1="878.75" y1="293.61" x2="921" y2="293.61" stroke="#111" stroke-width="1"/>
<line x1="878.75" y1="324.70" x2="921" y2="324.70" stroke="#111" stroke-width="1"/>
<line x1="878.75" y1="355.79" x2="921" y2="355.79" stroke="#111" stroke-width="1"/>
<line x1="878.75" y1="386.88" x2="921" y2="386.88" stroke="#111" stroke-width="1"/>
<line x1="878.75" y1="417.97" x2="921" y2="417.97" stroke="#111" stroke-width="1"/>
<line x1="878.75" y1="449.06" x2="921" y2="449.06" stroke="#111" stroke-width="1"/>
<line x1="878.75" y1="480.15" x2="921" y2="480.15" stroke="#111" stroke-width="1"/>
<line x1="878.75" y1="511.24" x2="921" y2="511.24" stroke="#111" stroke-width="1"/>
<line x1="878.75" y1="542.33" x2="921" y2="542.33" stroke="#111" stroke-width="1"/>
<line x1="878.75" y1="573.42" x2="921" y2="573.42" stroke="#111" stroke-width="1"/>
<line x1="878.75" y1="604.51" x2="921" y2="604.51" stroke="#111" stroke-width="1"/>
<line x1="878.75" y1="635.60" x2="921" y2="635.60" stroke="#111" stroke-width="1"/>
<line x1="878.75" y1="666.69" x2="921" y2="666.69" stroke="#111" stroke-width="1"/>
<line x1="878.75" y1="697.78" x2="921" y2="697.78" stroke="#111" stroke-width="1"/>
<line x1="878.75" y1="728.87" x2="921" y2="728.87" stroke="#111" stroke-width="1"/>
<line x1="878.75" y1="759.96" x2="921" y2="759.96" stroke="#111" stroke-width="1"/>
<line x1="878.75" y1="791.05" x2="921" y2="791.05" stroke="#111" stroke-width="1"/>
<line x1="878.75" y1="822.14" x2="921" y2="822.14" stroke="#111" stroke-width="1"/>
<rect x="878.75" y="169.25" width="42.25" height="683.98" fill="none" stroke="#000" stroke-opacity="0.45" stroke-width="0.9"/>
<g id="txt2">
<text class="cb" transform="translate(960,211.94) scale(1,1.04)" text-anchor="middle">2</text>
<text class="cb" transform="translate(960,274.12) scale(1,1.04)" text-anchor="middle">1.6</text>
<text class="cb" transform="translate(960,336.30) scale(1,1.04)" text-anchor="middle">1.2</text>
<text class="cb" transform="translate(960,398.48) scale(1,1.04)" text-anchor="middle">0.8</text>
<text class="cb" transform="translate(960,460.66) scale(1,1.04)" text-anchor="middle">0.4</text>
<text class="cb" transform="translate(960,522.84) scale(1,1.04)" text-anchor="middle">0</text>
<text class="cb" transform="translate(960,585.02) scale(1,1.04)" text-anchor="middle">-0.4</text>
<text class="cb" transform="translate(960,647.20) scale(1,1.04)" text-anchor="middle">-0.8</text>
<text class="cb" transform="translate(960,709.38) scale(1,1.04)" text-anchor="middle">-1.2</text>
<text class="cb" transform="translate(960,771.56) scale(1,1.04)" text-anchor="middle">-1.6</text>
<text class="cb" transform="translate(960,833.74) scale(1,1.04)" text-anchor="middle">-2</text>
</g>
</svg></body></html>
